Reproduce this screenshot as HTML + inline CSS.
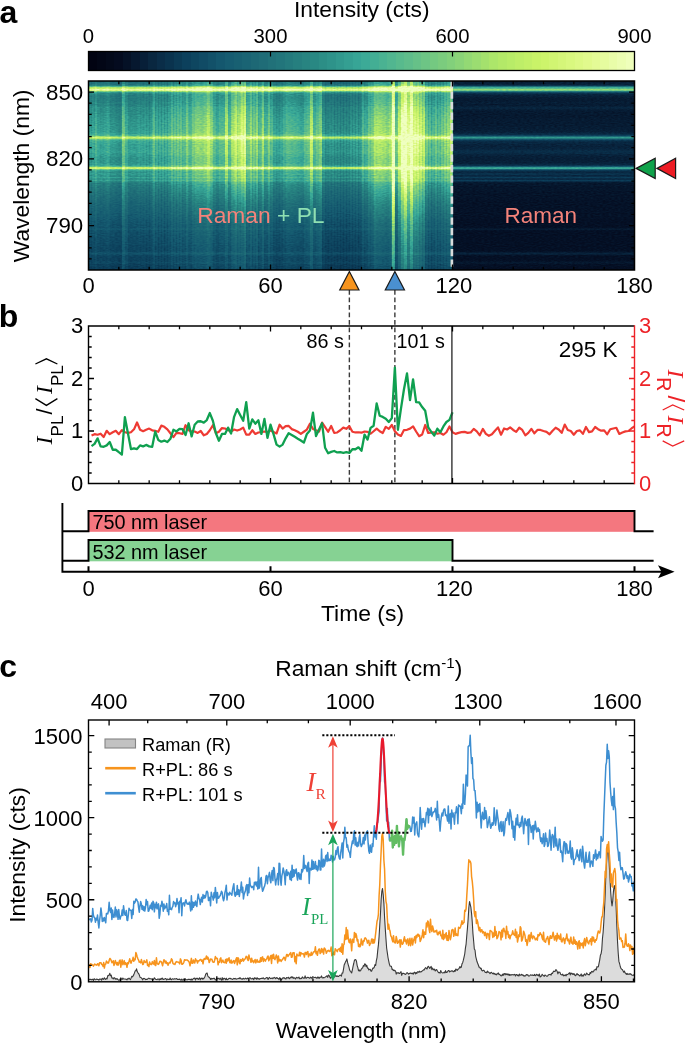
<!DOCTYPE html>
<html><head><meta charset="utf-8"><title>figure</title>
<style>html,body{margin:0;padding:0;background:#fff}svg{display:block}text{font-family:'Liberation Sans', sans-serif}</style></head><body>
<svg style="will-change:transform" width="685" height="1044" viewBox="0 0 685 1044">
<rect width="685" height="1044" fill="#fff"/>
<defs>
<linearGradient id="cb" x1="0" y1="0" x2="1" y2="0">
<stop offset="0" stop-color="rgb(1,3,18)"/><stop offset="0.0156" stop-color="rgb(1,3,18)"/>
<stop offset="0.0156" stop-color="rgb(2,6,22)"/><stop offset="0.0312" stop-color="rgb(2,6,22)"/>
<stop offset="0.0312" stop-color="rgb(3,9,26)"/><stop offset="0.0469" stop-color="rgb(3,9,26)"/>
<stop offset="0.0469" stop-color="rgb(4,11,31)"/><stop offset="0.0625" stop-color="rgb(4,11,31)"/>
<stop offset="0.0625" stop-color="rgb(5,17,38)"/><stop offset="0.0781" stop-color="rgb(5,17,38)"/>
<stop offset="0.0781" stop-color="rgb(6,24,47)"/><stop offset="0.0938" stop-color="rgb(6,24,47)"/>
<stop offset="0.0938" stop-color="rgb(7,31,56)"/><stop offset="0.1094" stop-color="rgb(7,31,56)"/>
<stop offset="0.1094" stop-color="rgb(9,39,64)"/><stop offset="0.125" stop-color="rgb(9,39,64)"/>
<stop offset="0.125" stop-color="rgb(10,45,72)"/><stop offset="0.1406" stop-color="rgb(10,45,72)"/>
<stop offset="0.1406" stop-color="rgb(10,51,78)"/><stop offset="0.1562" stop-color="rgb(10,51,78)"/>
<stop offset="0.1562" stop-color="rgb(11,58,85)"/><stop offset="0.1719" stop-color="rgb(11,58,85)"/>
<stop offset="0.1719" stop-color="rgb(12,64,92)"/><stop offset="0.1875" stop-color="rgb(12,64,92)"/>
<stop offset="0.1875" stop-color="rgb(14,70,96)"/><stop offset="0.2031" stop-color="rgb(14,70,96)"/>
<stop offset="0.2031" stop-color="rgb(16,75,101)"/><stop offset="0.2188" stop-color="rgb(16,75,101)"/>
<stop offset="0.2188" stop-color="rgb(18,81,105)"/><stop offset="0.2344" stop-color="rgb(18,81,105)"/>
<stop offset="0.2344" stop-color="rgb(20,87,110)"/><stop offset="0.25" stop-color="rgb(20,87,110)"/>
<stop offset="0.25" stop-color="rgb(22,92,113)"/><stop offset="0.2656" stop-color="rgb(22,92,113)"/>
<stop offset="0.2656" stop-color="rgb(24,96,114)"/><stop offset="0.2812" stop-color="rgb(24,96,114)"/>
<stop offset="0.2812" stop-color="rgb(26,100,116)"/><stop offset="0.2969" stop-color="rgb(26,100,116)"/>
<stop offset="0.2969" stop-color="rgb(29,104,117)"/><stop offset="0.3125" stop-color="rgb(29,104,117)"/>
<stop offset="0.3125" stop-color="rgb(31,108,119)"/><stop offset="0.3281" stop-color="rgb(31,108,119)"/>
<stop offset="0.3281" stop-color="rgb(33,113,121)"/><stop offset="0.3438" stop-color="rgb(33,113,121)"/>
<stop offset="0.3438" stop-color="rgb(34,117,123)"/><stop offset="0.3594" stop-color="rgb(34,117,123)"/>
<stop offset="0.3594" stop-color="rgb(36,122,125)"/><stop offset="0.375" stop-color="rgb(36,122,125)"/>
<stop offset="0.375" stop-color="rgb(38,127,127)"/><stop offset="0.3906" stop-color="rgb(38,127,127)"/>
<stop offset="0.3906" stop-color="rgb(40,132,129)"/><stop offset="0.4062" stop-color="rgb(40,132,129)"/>
<stop offset="0.4062" stop-color="rgb(41,136,131)"/><stop offset="0.4219" stop-color="rgb(41,136,131)"/>
<stop offset="0.4219" stop-color="rgb(44,142,134)"/><stop offset="0.4375" stop-color="rgb(44,142,134)"/>
<stop offset="0.4375" stop-color="rgb(46,147,138)"/><stop offset="0.4531" stop-color="rgb(46,147,138)"/>
<stop offset="0.4531" stop-color="rgb(49,153,142)"/><stop offset="0.4688" stop-color="rgb(49,153,142)"/>
<stop offset="0.4688" stop-color="rgb(52,159,146)"/><stop offset="0.4844" stop-color="rgb(52,159,146)"/>
<stop offset="0.4844" stop-color="rgb(55,165,150)"/><stop offset="0.5" stop-color="rgb(55,165,150)"/>
<stop offset="0.5" stop-color="rgb(60,170,151)"/><stop offset="0.5156" stop-color="rgb(60,170,151)"/>
<stop offset="0.5156" stop-color="rgb(67,174,148)"/><stop offset="0.5312" stop-color="rgb(67,174,148)"/>
<stop offset="0.5312" stop-color="rgb(74,178,146)"/><stop offset="0.5469" stop-color="rgb(74,178,146)"/>
<stop offset="0.5469" stop-color="rgb(81,182,144)"/><stop offset="0.5625" stop-color="rgb(81,182,144)"/>
<stop offset="0.5625" stop-color="rgb(88,186,141)"/><stop offset="0.5781" stop-color="rgb(88,186,141)"/>
<stop offset="0.5781" stop-color="rgb(95,189,139)"/><stop offset="0.5938" stop-color="rgb(95,189,139)"/>
<stop offset="0.5938" stop-color="rgb(102,193,136)"/><stop offset="0.6094" stop-color="rgb(102,193,136)"/>
<stop offset="0.6094" stop-color="rgb(109,197,133)"/><stop offset="0.625" stop-color="rgb(109,197,133)"/>
<stop offset="0.625" stop-color="rgb(116,201,129)"/><stop offset="0.6406" stop-color="rgb(116,201,129)"/>
<stop offset="0.6406" stop-color="rgb(123,204,126)"/><stop offset="0.6562" stop-color="rgb(123,204,126)"/>
<stop offset="0.6562" stop-color="rgb(130,208,123)"/><stop offset="0.6719" stop-color="rgb(130,208,123)"/>
<stop offset="0.6719" stop-color="rgb(138,212,120)"/><stop offset="0.6875" stop-color="rgb(138,212,120)"/>
<stop offset="0.6875" stop-color="rgb(147,217,116)"/><stop offset="0.7031" stop-color="rgb(147,217,116)"/>
<stop offset="0.7031" stop-color="rgb(155,221,113)"/><stop offset="0.7188" stop-color="rgb(155,221,113)"/>
<stop offset="0.7188" stop-color="rgb(164,225,109)"/><stop offset="0.7344" stop-color="rgb(164,225,109)"/>
<stop offset="0.7344" stop-color="rgb(172,230,106)"/><stop offset="0.75" stop-color="rgb(172,230,106)"/>
<stop offset="0.75" stop-color="rgb(179,233,104)"/><stop offset="0.7656" stop-color="rgb(179,233,104)"/>
<stop offset="0.7656" stop-color="rgb(184,236,104)"/><stop offset="0.7812" stop-color="rgb(184,236,104)"/>
<stop offset="0.7812" stop-color="rgb(190,238,104)"/><stop offset="0.7969" stop-color="rgb(190,238,104)"/>
<stop offset="0.7969" stop-color="rgb(195,240,104)"/><stop offset="0.8125" stop-color="rgb(195,240,104)"/>
<stop offset="0.8125" stop-color="rgb(201,243,104)"/><stop offset="0.8281" stop-color="rgb(201,243,104)"/>
<stop offset="0.8281" stop-color="rgb(205,244,107)"/><stop offset="0.8438" stop-color="rgb(205,244,107)"/>
<stop offset="0.8438" stop-color="rgb(209,245,114)"/><stop offset="0.8594" stop-color="rgb(209,245,114)"/>
<stop offset="0.8594" stop-color="rgb(213,246,121)"/><stop offset="0.875" stop-color="rgb(213,246,121)"/>
<stop offset="0.875" stop-color="rgb(217,248,127)"/><stop offset="0.8906" stop-color="rgb(217,248,127)"/>
<stop offset="0.8906" stop-color="rgb(221,249,134)"/><stop offset="0.9062" stop-color="rgb(221,249,134)"/>
<stop offset="0.9062" stop-color="rgb(225,250,141)"/><stop offset="0.9219" stop-color="rgb(225,250,141)"/>
<stop offset="0.9219" stop-color="rgb(228,251,150)"/><stop offset="0.9375" stop-color="rgb(228,251,150)"/>
<stop offset="0.9375" stop-color="rgb(230,252,159)"/><stop offset="0.9531" stop-color="rgb(230,252,159)"/>
<stop offset="0.9531" stop-color="rgb(233,253,169)"/><stop offset="0.9688" stop-color="rgb(233,253,169)"/>
<stop offset="0.9688" stop-color="rgb(236,254,178)"/><stop offset="0.9844" stop-color="rgb(236,254,178)"/>
<stop offset="0.9844" stop-color="rgb(239,255,187)"/><stop offset="1" stop-color="rgb(239,255,187)"/>
</linearGradient>
<linearGradient id="hv" x1="0" y1="0" x2="0" y2="1">
<stop offset="0" stop-color="rgb(139,10,0)"/>
<stop offset="0.0053" stop-color="rgb(144,11,0)"/>
<stop offset="0.0105" stop-color="rgb(148,12,0)"/>
<stop offset="0.0158" stop-color="rgb(152,14,0)"/>
<stop offset="0.0211" stop-color="rgb(156,18,0)"/>
<stop offset="0.0263" stop-color="rgb(158,33,0)"/>
<stop offset="0.0316" stop-color="rgb(160,103,0)"/>
<stop offset="0.0368" stop-color="rgb(162,126,0)"/>
<stop offset="0.0421" stop-color="rgb(163,139,0)"/>
<stop offset="0.0474" stop-color="rgb(165,183,0)"/>
<stop offset="0.0526" stop-color="rgb(167,116,0)"/>
<stop offset="0.0579" stop-color="rgb(169,52,0)"/>
<stop offset="0.0632" stop-color="rgb(171,28,0)"/>
<stop offset="0.0684" stop-color="rgb(173,19,0)"/>
<stop offset="0.0737" stop-color="rgb(174,15,0)"/>
<stop offset="0.0789" stop-color="rgb(176,13,0)"/>
<stop offset="0.0842" stop-color="rgb(178,12,0)"/>
<stop offset="0.0895" stop-color="rgb(181,11,0)"/>
<stop offset="0.0947" stop-color="rgb(183,10,0)"/>
<stop offset="0.1" stop-color="rgb(185,10,0)"/>
<stop offset="0.1053" stop-color="rgb(187,10,0)"/>
<stop offset="0.1105" stop-color="rgb(189,11,0)"/>
<stop offset="0.1158" stop-color="rgb(190,12,0)"/>
<stop offset="0.1211" stop-color="rgb(192,11,0)"/>
<stop offset="0.1263" stop-color="rgb(194,10,0)"/>
<stop offset="0.1316" stop-color="rgb(196,11,0)"/>
<stop offset="0.1368" stop-color="rgb(200,14,0)"/>
<stop offset="0.1421" stop-color="rgb(203,16,0)"/>
<stop offset="0.1474" stop-color="rgb(206,14,0)"/>
<stop offset="0.1526" stop-color="rgb(209,11,0)"/>
<stop offset="0.1579" stop-color="rgb(213,10,0)"/>
<stop offset="0.1632" stop-color="rgb(216,9,0)"/>
<stop offset="0.1684" stop-color="rgb(220,9,0)"/>
<stop offset="0.1737" stop-color="rgb(223,9,0)"/>
<stop offset="0.1789" stop-color="rgb(226,9,0)"/>
<stop offset="0.1842" stop-color="rgb(227,9,0)"/>
<stop offset="0.1895" stop-color="rgb(229,9,0)"/>
<stop offset="0.1947" stop-color="rgb(230,9,0)"/>
<stop offset="0.2" stop-color="rgb(231,10,0)"/>
<stop offset="0.2053" stop-color="rgb(233,10,0)"/>
<stop offset="0.2105" stop-color="rgb(234,10,0)"/>
<stop offset="0.2158" stop-color="rgb(235,10,0)"/>
<stop offset="0.2211" stop-color="rgb(236,10,0)"/>
<stop offset="0.2263" stop-color="rgb(237,10,0)"/>
<stop offset="0.2316" stop-color="rgb(238,10,0)"/>
<stop offset="0.2368" stop-color="rgb(239,10,0)"/>
<stop offset="0.2421" stop-color="rgb(240,11,0)"/>
<stop offset="0.2474" stop-color="rgb(240,11,0)"/>
<stop offset="0.2526" stop-color="rgb(240,11,0)"/>
<stop offset="0.2579" stop-color="rgb(241,12,0)"/>
<stop offset="0.2632" stop-color="rgb(241,12,0)"/>
<stop offset="0.2684" stop-color="rgb(241,13,0)"/>
<stop offset="0.2737" stop-color="rgb(241,15,0)"/>
<stop offset="0.2789" stop-color="rgb(241,18,0)"/>
<stop offset="0.2842" stop-color="rgb(242,23,0)"/>
<stop offset="0.2895" stop-color="rgb(242,37,0)"/>
<stop offset="0.2947" stop-color="rgb(242,74,0)"/>
<stop offset="0.3" stop-color="rgb(242,111,0)"/>
<stop offset="0.3053" stop-color="rgb(243,74,0)"/>
<stop offset="0.3105" stop-color="rgb(243,38,0)"/>
<stop offset="0.3158" stop-color="rgb(243,24,0)"/>
<stop offset="0.3211" stop-color="rgb(244,19,0)"/>
<stop offset="0.3263" stop-color="rgb(244,17,0)"/>
<stop offset="0.3316" stop-color="rgb(244,16,0)"/>
<stop offset="0.3368" stop-color="rgb(244,15,0)"/>
<stop offset="0.3421" stop-color="rgb(244,14,0)"/>
<stop offset="0.3474" stop-color="rgb(244,14,0)"/>
<stop offset="0.3526" stop-color="rgb(242,15,0)"/>
<stop offset="0.3579" stop-color="rgb(240,15,0)"/>
<stop offset="0.3632" stop-color="rgb(238,17,0)"/>
<stop offset="0.3684" stop-color="rgb(236,19,0)"/>
<stop offset="0.3737" stop-color="rgb(235,21,0)"/>
<stop offset="0.3789" stop-color="rgb(234,20,0)"/>
<stop offset="0.3842" stop-color="rgb(233,18,0)"/>
<stop offset="0.3895" stop-color="rgb(233,15,1)"/>
<stop offset="0.3947" stop-color="rgb(232,14,4)"/>
<stop offset="0.4" stop-color="rgb(229,13,6)"/>
<stop offset="0.4053" stop-color="rgb(226,12,9)"/>
<stop offset="0.4105" stop-color="rgb(224,12,12)"/>
<stop offset="0.4158" stop-color="rgb(222,12,15)"/>
<stop offset="0.4211" stop-color="rgb(221,12,18)"/>
<stop offset="0.4263" stop-color="rgb(220,13,21)"/>
<stop offset="0.4316" stop-color="rgb(218,13,23)"/>
<stop offset="0.4368" stop-color="rgb(217,15,27)"/>
<stop offset="0.4421" stop-color="rgb(214,18,33)"/>
<stop offset="0.4474" stop-color="rgb(211,26,39)"/>
<stop offset="0.4526" stop-color="rgb(208,50,44)"/>
<stop offset="0.4579" stop-color="rgb(205,108,50)"/>
<stop offset="0.4632" stop-color="rgb(202,114,56)"/>
<stop offset="0.4684" stop-color="rgb(199,54,61)"/>
<stop offset="0.4737" stop-color="rgb(196,27,67)"/>
<stop offset="0.4789" stop-color="rgb(193,19,73)"/>
<stop offset="0.4842" stop-color="rgb(190,17,79)"/>
<stop offset="0.4895" stop-color="rgb(187,22,84)"/>
<stop offset="0.4947" stop-color="rgb(184,24,90)"/>
<stop offset="0.5" stop-color="rgb(181,17,96)"/>
<stop offset="0.5053" stop-color="rgb(178,20,101)"/>
<stop offset="0.5105" stop-color="rgb(174,30,109)"/>
<stop offset="0.5158" stop-color="rgb(169,20,116)"/>
<stop offset="0.5211" stop-color="rgb(165,18,124)"/>
<stop offset="0.5263" stop-color="rgb(160,30,132)"/>
<stop offset="0.5316" stop-color="rgb(155,20,139)"/>
<stop offset="0.5368" stop-color="rgb(151,10,147)"/>
<stop offset="0.5421" stop-color="rgb(146,8,154)"/>
<stop offset="0.5474" stop-color="rgb(141,8,162)"/>
<stop offset="0.5526" stop-color="rgb(137,8,170)"/>
<stop offset="0.5579" stop-color="rgb(132,7,177)"/>
<stop offset="0.5632" stop-color="rgb(127,7,185)"/>
<stop offset="0.5684" stop-color="rgb(123,7,192)"/>
<stop offset="0.5737" stop-color="rgb(118,7,200)"/>
<stop offset="0.5789" stop-color="rgb(114,7,206)"/>
<stop offset="0.5842" stop-color="rgb(111,6,210)"/>
<stop offset="0.5895" stop-color="rgb(108,6,213)"/>
<stop offset="0.5947" stop-color="rgb(104,6,217)"/>
<stop offset="0.6" stop-color="rgb(101,6,221)"/>
<stop offset="0.6053" stop-color="rgb(98,6,225)"/>
<stop offset="0.6105" stop-color="rgb(95,6,229)"/>
<stop offset="0.6158" stop-color="rgb(91,6,232)"/>
<stop offset="0.6211" stop-color="rgb(88,6,236)"/>
<stop offset="0.6263" stop-color="rgb(85,6,240)"/>
<stop offset="0.6316" stop-color="rgb(82,5,244)"/>
<stop offset="0.6368" stop-color="rgb(78,5,248)"/>
<stop offset="0.6421" stop-color="rgb(75,5,251)"/>
<stop offset="0.6474" stop-color="rgb(72,5,255)"/>
<stop offset="0.6526" stop-color="rgb(70,5,255)"/>
<stop offset="0.6579" stop-color="rgb(68,5,255)"/>
<stop offset="0.6632" stop-color="rgb(67,5,255)"/>
<stop offset="0.6684" stop-color="rgb(65,5,255)"/>
<stop offset="0.6737" stop-color="rgb(63,5,255)"/>
<stop offset="0.6789" stop-color="rgb(62,5,255)"/>
<stop offset="0.6842" stop-color="rgb(60,5,255)"/>
<stop offset="0.6895" stop-color="rgb(58,5,255)"/>
<stop offset="0.6947" stop-color="rgb(57,5,255)"/>
<stop offset="0.7" stop-color="rgb(55,5,255)"/>
<stop offset="0.7053" stop-color="rgb(53,5,255)"/>
<stop offset="0.7105" stop-color="rgb(51,5,255)"/>
<stop offset="0.7158" stop-color="rgb(50,5,255)"/>
<stop offset="0.7211" stop-color="rgb(48,5,255)"/>
<stop offset="0.7263" stop-color="rgb(46,5,255)"/>
<stop offset="0.7316" stop-color="rgb(45,4,255)"/>
<stop offset="0.7368" stop-color="rgb(43,4,255)"/>
<stop offset="0.7421" stop-color="rgb(41,4,255)"/>
<stop offset="0.7474" stop-color="rgb(40,4,255)"/>
<stop offset="0.7526" stop-color="rgb(38,4,255)"/>
<stop offset="0.7579" stop-color="rgb(36,4,255)"/>
<stop offset="0.7632" stop-color="rgb(35,4,255)"/>
<stop offset="0.7684" stop-color="rgb(34,4,253)"/>
<stop offset="0.7737" stop-color="rgb(33,4,251)"/>
<stop offset="0.7789" stop-color="rgb(33,7,249)"/>
<stop offset="0.7842" stop-color="rgb(33,11,247)"/>
<stop offset="0.7895" stop-color="rgb(32,5,244)"/>
<stop offset="0.7947" stop-color="rgb(32,4,242)"/>
<stop offset="0.8" stop-color="rgb(32,4,240)"/>
<stop offset="0.8053" stop-color="rgb(31,4,237)"/>
<stop offset="0.8105" stop-color="rgb(31,4,235)"/>
<stop offset="0.8158" stop-color="rgb(31,4,233)"/>
<stop offset="0.8211" stop-color="rgb(30,4,231)"/>
<stop offset="0.8263" stop-color="rgb(30,4,228)"/>
<stop offset="0.8316" stop-color="rgb(30,4,226)"/>
<stop offset="0.8368" stop-color="rgb(29,4,224)"/>
<stop offset="0.8421" stop-color="rgb(29,4,221)"/>
<stop offset="0.8474" stop-color="rgb(29,4,219)"/>
<stop offset="0.8526" stop-color="rgb(28,4,217)"/>
<stop offset="0.8579" stop-color="rgb(28,4,215)"/>
<stop offset="0.8632" stop-color="rgb(28,4,212)"/>
<stop offset="0.8684" stop-color="rgb(27,4,210)"/>
<stop offset="0.8737" stop-color="rgb(27,4,208)"/>
<stop offset="0.8789" stop-color="rgb(27,4,206)"/>
<stop offset="0.8842" stop-color="rgb(26,4,203)"/>
<stop offset="0.8895" stop-color="rgb(26,4,201)"/>
<stop offset="0.8947" stop-color="rgb(26,4,199)"/>
<stop offset="0.9" stop-color="rgb(26,4,197)"/>
<stop offset="0.9053" stop-color="rgb(26,7,195)"/>
<stop offset="0.9105" stop-color="rgb(26,14,193)"/>
<stop offset="0.9158" stop-color="rgb(25,14,191)"/>
<stop offset="0.9211" stop-color="rgb(25,7,189)"/>
<stop offset="0.9263" stop-color="rgb(25,4,187)"/>
<stop offset="0.9316" stop-color="rgb(25,4,185)"/>
<stop offset="0.9368" stop-color="rgb(25,4,183)"/>
<stop offset="0.9421" stop-color="rgb(25,4,181)"/>
<stop offset="0.9474" stop-color="rgb(24,4,179)"/>
<stop offset="0.9526" stop-color="rgb(24,5,177)"/>
<stop offset="0.9579" stop-color="rgb(24,8,175)"/>
<stop offset="0.9632" stop-color="rgb(24,10,173)"/>
<stop offset="0.9684" stop-color="rgb(24,5,170)"/>
<stop offset="0.9737" stop-color="rgb(24,4,168)"/>
<stop offset="0.9789" stop-color="rgb(23,4,166)"/>
<stop offset="0.9842" stop-color="rgb(23,4,164)"/>
<stop offset="0.9895" stop-color="rgb(23,3,162)"/>
<stop offset="0.9947" stop-color="rgb(23,3,160)"/>
<stop offset="1" stop-color="rgb(23,3,158)"/>
</linearGradient>
<filter id="cm" x="0" y="0" width="1" height="1" color-interpolation-filters="sRGB">
<feColorMatrix in="SourceGraphic" type="matrix" values="1.1500 1 0.4889 0 0.0533 1.1500 1 0.4889 0 0.0533 1.1500 1 0.4889 0 0.0533 0 0 0 0 1" result="v"/>
<feTurbulence type="fractalNoise" baseFrequency="0.33 0.9" numOctaves="1" seed="4" result="n"/>
<feColorMatrix in="n" type="matrix" values="1 0 0 0 0 1 0 0 0 0 1 0 0 0 0 0 0 0 0 1" result="n1"/>
<feComposite in="v" in2="n1" operator="arithmetic" k1="0.220" k2="0.890" k3="0.035" k4="-0.0175" result="vn"/>
<feComponentTransfer in="vn"><feFuncR type="table" tableValues="0.004 0.007 0.010 0.013 0.017 0.022 0.027 0.032 0.036 0.039 0.042 0.045 0.051 0.059 0.067 0.074 0.082 0.091 0.099 0.108 0.116 0.124 0.131 0.138 0.145 0.152 0.159 0.166 0.177 0.187 0.198 0.209 0.220 0.247 0.275 0.302 0.330 0.357 0.385 0.413 0.440 0.468 0.495 0.527 0.559 0.592 0.625 0.658 0.690 0.712 0.733 0.755 0.776 0.797 0.813 0.828 0.843 0.858 0.873 0.888 0.898 0.909 0.920 0.930 0.941"/><feFuncG type="table" tableValues="0.008 0.018 0.028 0.038 0.052 0.080 0.109 0.137 0.165 0.189 0.214 0.238 0.262 0.285 0.307 0.330 0.353 0.369 0.385 0.401 0.417 0.433 0.451 0.470 0.488 0.507 0.525 0.544 0.567 0.590 0.613 0.636 0.659 0.674 0.689 0.705 0.720 0.735 0.750 0.765 0.779 0.794 0.808 0.825 0.842 0.859 0.876 0.893 0.910 0.919 0.928 0.937 0.947 0.956 0.960 0.965 0.969 0.973 0.977 0.981 0.985 0.989 0.992 0.996 1.000"/><feFuncB type="table" tableValues="0.063 0.079 0.095 0.112 0.131 0.166 0.200 0.235 0.267 0.294 0.320 0.347 0.369 0.387 0.404 0.422 0.439 0.445 0.451 0.458 0.464 0.470 0.478 0.486 0.494 0.502 0.510 0.519 0.535 0.550 0.565 0.581 0.596 0.587 0.578 0.569 0.559 0.550 0.538 0.526 0.514 0.501 0.489 0.476 0.462 0.449 0.435 0.421 0.408 0.408 0.408 0.408 0.408 0.408 0.432 0.459 0.486 0.514 0.541 0.569 0.606 0.643 0.679 0.716 0.753"/></feComponentTransfer>
</filter>
</defs>
<text x="-0.6" y="22.6" font-size="32" text-anchor="start" fill="#000" font-weight="bold">a</text>
<text x="361.8" y="16.8" font-size="22.8" text-anchor="middle" fill="#000" >Intensity (cts)</text>
<rect x="88.5" y="51.5" width="546" height="19" fill="url(#cb)" stroke="#000" stroke-width="1.3"/>
<text x="88.5" y="43.2" font-size="20.3" text-anchor="middle" fill="#000" >0</text>
<text x="270.5" y="43.2" font-size="20.3" text-anchor="middle" fill="#000" >300</text>
<line x1="270.5" y1="51.5" x2="270.5" y2="56.5" stroke="#000" stroke-width="1.2" />
<text x="452.5" y="43.2" font-size="20.3" text-anchor="middle" fill="#000" >600</text>
<line x1="452.5" y1="51.5" x2="452.5" y2="56.5" stroke="#000" stroke-width="1.2" />
<text x="634.5" y="43.2" font-size="20.3" text-anchor="middle" fill="#000" >900</text>
<g filter="url(#cm)"><g style="isolation:isolate">
<rect x="88.5" y="81" width="546" height="189" fill="rgb(0,255,0)"/>
<rect x="88.5" y="81" width="3.33" height="189" fill="rgb(89,255,56)"/>
<rect x="91.53" y="81" width="3.33" height="189" fill="rgb(93,255,58)"/>
<rect x="94.57" y="81" width="3.33" height="189" fill="rgb(103,255,63)"/>
<rect x="97.6" y="81" width="3.33" height="189" fill="rgb(89,255,56)"/>
<rect x="100.63" y="81" width="3.33" height="189" fill="rgb(88,255,56)"/>
<rect x="103.67" y="81" width="3.33" height="189" fill="rgb(91,255,57)"/>
<rect x="106.7" y="81" width="3.33" height="189" fill="rgb(97,255,60)"/>
<rect x="109.73" y="81" width="3.33" height="189" fill="rgb(83,255,53)"/>
<rect x="112.77" y="81" width="3.33" height="189" fill="rgb(83,255,53)"/>
<rect x="115.8" y="81" width="3.33" height="189" fill="rgb(78,255,51)"/>
<rect x="118.83" y="81" width="3.33" height="189" fill="rgb(74,255,49)"/>
<rect x="121.87" y="81" width="3.33" height="189" fill="rgb(124,255,82)"/>
<rect x="124.9" y="81" width="3.33" height="189" fill="rgb(98,255,68)"/>
<rect x="127.93" y="81" width="3.33" height="189" fill="rgb(84,255,54)"/>
<rect x="130.97" y="81" width="3.33" height="189" fill="rgb(85,255,54)"/>
<rect x="134" y="81" width="3.33" height="189" fill="rgb(84,255,54)"/>
<rect x="137.03" y="81" width="3.33" height="189" fill="rgb(91,255,57)"/>
<rect x="140.07" y="81" width="3.33" height="189" fill="rgb(89,255,56)"/>
<rect x="143.1" y="81" width="3.33" height="189" fill="rgb(91,255,57)"/>
<rect x="146.13" y="81" width="3.33" height="189" fill="rgb(89,255,56)"/>
<rect x="149.17" y="81" width="3.33" height="189" fill="rgb(88,255,56)"/>
<rect x="152.2" y="81" width="3.33" height="189" fill="rgb(115,255,69)"/>
<rect x="155.23" y="81" width="3.33" height="189" fill="rgb(100,255,62)"/>
<rect x="158.27" y="81" width="3.33" height="189" fill="rgb(97,255,60)"/>
<rect x="161.3" y="81" width="3.33" height="189" fill="rgb(99,255,61)"/>
<rect x="164.33" y="81" width="3.33" height="189" fill="rgb(97,255,60)"/>
<rect x="167.37" y="81" width="3.33" height="189" fill="rgb(102,255,63)"/>
<rect x="170.4" y="81" width="3.33" height="189" fill="rgb(119,255,71)"/>
<rect x="173.43" y="81" width="3.33" height="189" fill="rgb(116,255,69)"/>
<rect x="176.47" y="81" width="3.33" height="189" fill="rgb(120,255,71)"/>
<rect x="179.5" y="81" width="3.33" height="189" fill="rgb(120,255,71)"/>
<rect x="182.53" y="81" width="3.33" height="189" fill="rgb(109,255,66)"/>
<rect x="185.57" y="81" width="3.33" height="189" fill="rgb(133,255,76)"/>
<rect x="188.6" y="81" width="3.33" height="189" fill="rgb(107,255,65)"/>
<rect x="191.63" y="81" width="3.33" height="189" fill="rgb(129,255,75)"/>
<rect x="194.67" y="81" width="3.33" height="189" fill="rgb(138,255,78)"/>
<rect x="197.7" y="81" width="3.33" height="189" fill="rgb(138,255,78)"/>
<rect x="200.73" y="81" width="3.33" height="189" fill="rgb(134,255,77)"/>
<rect x="203.77" y="81" width="3.33" height="189" fill="rgb(142,255,79)"/>
<rect x="206.8" y="81" width="3.33" height="189" fill="rgb(161,255,85)"/>
<rect x="209.83" y="81" width="3.33" height="189" fill="rgb(140,255,79)"/>
<rect x="212.87" y="81" width="3.33" height="189" fill="rgb(112,255,68)"/>
<rect x="215.9" y="81" width="3.33" height="189" fill="rgb(99,255,61)"/>
<rect x="218.93" y="81" width="3.33" height="189" fill="rgb(111,255,67)"/>
<rect x="221.97" y="81" width="3.33" height="189" fill="rgb(111,255,67)"/>
<rect x="225" y="81" width="3.33" height="189" fill="rgb(158,255,73)"/>
<rect x="228.03" y="81" width="3.33" height="189" fill="rgb(112,255,67)"/>
<rect x="231.07" y="81" width="3.33" height="189" fill="rgb(150,255,82)"/>
<rect x="234.1" y="81" width="3.33" height="189" fill="rgb(172,255,89)"/>
<rect x="237.13" y="81" width="3.33" height="189" fill="rgb(156,255,84)"/>
<rect x="240.17" y="81" width="3.33" height="189" fill="rgb(183,255,79)"/>
<rect x="243.2" y="81" width="3.33" height="189" fill="rgb(190,255,95)"/>
<rect x="246.23" y="81" width="3.33" height="189" fill="rgb(121,255,72)"/>
<rect x="249.27" y="81" width="3.33" height="189" fill="rgb(143,255,80)"/>
<rect x="252.3" y="81" width="3.33" height="189" fill="rgb(131,255,76)"/>
<rect x="255.33" y="81" width="3.33" height="189" fill="rgb(141,255,79)"/>
<rect x="258.37" y="81" width="3.33" height="189" fill="rgb(111,255,67)"/>
<rect x="261.4" y="81" width="3.33" height="189" fill="rgb(145,255,80)"/>
<rect x="264.43" y="81" width="3.33" height="189" fill="rgb(104,255,63)"/>
<rect x="267.47" y="81" width="3.33" height="189" fill="rgb(129,255,75)"/>
<rect x="270.5" y="81" width="3.33" height="189" fill="rgb(111,255,67)"/>
<rect x="273.53" y="81" width="3.33" height="189" fill="rgb(92,255,58)"/>
<rect x="276.57" y="81" width="3.33" height="189" fill="rgb(88,255,56)"/>
<rect x="279.6" y="81" width="3.33" height="189" fill="rgb(92,255,58)"/>
<rect x="282.63" y="81" width="3.33" height="189" fill="rgb(103,255,63)"/>
<rect x="285.67" y="81" width="3.33" height="189" fill="rgb(112,255,68)"/>
<rect x="288.7" y="81" width="3.33" height="189" fill="rgb(109,255,66)"/>
<rect x="291.73" y="81" width="3.33" height="189" fill="rgb(106,255,64)"/>
<rect x="294.77" y="81" width="3.33" height="189" fill="rgb(103,255,63)"/>
<rect x="297.8" y="81" width="3.33" height="189" fill="rgb(99,255,61)"/>
<rect x="300.83" y="81" width="3.33" height="189" fill="rgb(95,255,59)"/>
<rect x="303.87" y="81" width="3.33" height="189" fill="rgb(111,255,67)"/>
<rect x="306.9" y="81" width="3.33" height="189" fill="rgb(117,255,70)"/>
<rect x="309.93" y="81" width="3.33" height="189" fill="rgb(162,255,86)"/>
<rect x="312.97" y="81" width="3.33" height="189" fill="rgb(107,255,65)"/>
<rect x="316" y="81" width="3.33" height="189" fill="rgb(119,255,71)"/>
<rect x="319.03" y="81" width="3.33" height="189" fill="rgb(133,255,76)"/>
<rect x="322.07" y="81" width="3.33" height="189" fill="rgb(86,255,55)"/>
<rect x="325.1" y="81" width="3.33" height="189" fill="rgb(76,255,50)"/>
<rect x="328.13" y="81" width="3.33" height="189" fill="rgb(79,255,51)"/>
<rect x="331.17" y="81" width="3.33" height="189" fill="rgb(81,255,52)"/>
<rect x="334.2" y="81" width="3.33" height="189" fill="rgb(78,255,51)"/>
<rect x="337.23" y="81" width="3.33" height="189" fill="rgb(78,255,51)"/>
<rect x="340.27" y="81" width="3.33" height="189" fill="rgb(77,255,50)"/>
<rect x="343.3" y="81" width="3.33" height="189" fill="rgb(78,255,51)"/>
<rect x="346.33" y="81" width="3.33" height="189" fill="rgb(77,255,50)"/>
<rect x="349.37" y="81" width="3.33" height="189" fill="rgb(84,255,53)"/>
<rect x="352.4" y="81" width="3.33" height="189" fill="rgb(84,255,53)"/>
<rect x="355.43" y="81" width="3.33" height="189" fill="rgb(87,255,55)"/>
<rect x="358.47" y="81" width="3.33" height="189" fill="rgb(81,255,52)"/>
<rect x="361.5" y="81" width="3.33" height="189" fill="rgb(110,255,66)"/>
<rect x="364.53" y="81" width="3.33" height="189" fill="rgb(101,255,62)"/>
<rect x="367.57" y="81" width="3.33" height="189" fill="rgb(122,255,72)"/>
<rect x="370.6" y="81" width="3.33" height="189" fill="rgb(126,255,74)"/>
<rect x="373.63" y="81" width="3.33" height="189" fill="rgb(152,255,94)"/>
<rect x="376.67" y="81" width="3.33" height="189" fill="rgb(153,255,83)"/>
<rect x="379.7" y="81" width="3.33" height="189" fill="rgb(150,255,82)"/>
<rect x="382.73" y="81" width="3.33" height="189" fill="rgb(145,255,80)"/>
<rect x="385.77" y="81" width="3.33" height="189" fill="rgb(136,255,77)"/>
<rect x="388.8" y="81" width="3.33" height="189" fill="rgb(147,255,81)"/>
<rect x="391.83" y="81" width="3.33" height="189" fill="rgb(286,255,248)"/>
<rect x="394.87" y="81" width="3.33" height="189" fill="rgb(119,255,71)"/>
<rect x="397.9" y="81" width="3.33" height="189" fill="rgb(172,255,113)"/>
<rect x="400.93" y="81" width="3.33" height="189" fill="rgb(226,255,163)"/>
<rect x="403.97" y="81" width="3.33" height="189" fill="rgb(270,255,203)"/>
<rect x="407" y="81" width="3.33" height="189" fill="rgb(196,255,135)"/>
<rect x="410.03" y="81" width="3.33" height="189" fill="rgb(253,255,188)"/>
<rect x="413.07" y="81" width="3.33" height="189" fill="rgb(191,255,130)"/>
<rect x="416.1" y="81" width="3.33" height="189" fill="rgb(190,255,129)"/>
<rect x="419.13" y="81" width="3.33" height="189" fill="rgb(177,255,117)"/>
<rect x="422.17" y="81" width="3.33" height="189" fill="rgb(167,255,108)"/>
<rect x="425.2" y="81" width="3.33" height="189" fill="rgb(123,255,73)"/>
<rect x="428.23" y="81" width="3.33" height="189" fill="rgb(115,255,69)"/>
<rect x="431.27" y="81" width="3.33" height="189" fill="rgb(108,255,65)"/>
<rect x="434.3" y="81" width="3.33" height="189" fill="rgb(121,255,72)"/>
<rect x="437.33" y="81" width="3.33" height="189" fill="rgb(114,255,68)"/>
<rect x="440.37" y="81" width="3.33" height="189" fill="rgb(125,255,74)"/>
<rect x="443.4" y="81" width="3.33" height="189" fill="rgb(136,255,77)"/>
<rect x="446.43" y="81" width="3.33" height="189" fill="rgb(142,255,79)"/>
<rect x="449.47" y="81" width="3.33" height="189" fill="rgb(163,255,86)"/>
<rect x="88.5" y="81" width="546" height="189" fill="url(#hv)" style="mix-blend-mode:multiply"/>
</g></g>
<line x1="451.9" y1="81" x2="451.9" y2="270" stroke="#d9dcdc" stroke-width="2.6" stroke-dasharray="7.2 3.3"/>
<rect x="88.5" y="81" width="546" height="189" fill="none" stroke="#000" stroke-width="1.5"/>
<path d="M88.5 258.9L91.7 258.9M634.5 258.9L631.3 258.9M88.5 247.78L91.7 247.78M634.5 247.78L631.3 247.78M88.5 236.66L91.7 236.66M634.5 236.66L631.3 236.66M88.5 225.54L94 225.54M634.5 225.54L629 225.54M88.5 214.42L91.7 214.42M634.5 214.42L631.3 214.42M88.5 203.3L91.7 203.3M634.5 203.3L631.3 203.3M88.5 192.18L91.7 192.18M634.5 192.18L631.3 192.18M88.5 181.06L91.7 181.06M634.5 181.06L631.3 181.06M88.5 169.94L91.7 169.94M634.5 169.94L631.3 169.94M88.5 158.82L94 158.82M634.5 158.82L629 158.82M88.5 147.7L91.7 147.7M634.5 147.7L631.3 147.7M88.5 136.58L91.7 136.58M634.5 136.58L631.3 136.58M88.5 125.46L91.7 125.46M634.5 125.46L631.3 125.46M88.5 114.34L91.7 114.34M634.5 114.34L631.3 114.34M88.5 103.22L91.7 103.22M634.5 103.22L631.3 103.22M88.5 92.1L94 92.1M634.5 92.1L629 92.1M118.83 270L118.83 266.8M118.83 81L118.83 84.2M149.17 270L149.17 266.8M149.17 81L149.17 84.2M179.5 270L179.5 266.8M179.5 81L179.5 84.2M209.83 270L209.83 266.8M209.83 81L209.83 84.2M240.17 270L240.17 266.8M240.17 81L240.17 84.2M270.5 270L270.5 264.5M270.5 81L270.5 86.5M300.83 270L300.83 266.8M300.83 81L300.83 84.2M331.17 270L331.17 266.8M331.17 81L331.17 84.2M361.5 270L361.5 266.8M361.5 81L361.5 84.2M391.83 270L391.83 266.8M391.83 81L391.83 84.2M422.17 270L422.17 266.8M422.17 81L422.17 84.2M452.5 270L452.5 264.5M452.5 81L452.5 86.5M482.83 270L482.83 266.8M482.83 81L482.83 84.2M513.17 270L513.17 266.8M513.17 81L513.17 84.2M543.5 270L543.5 266.8M543.5 81L543.5 84.2M573.83 270L573.83 266.8M573.83 81L573.83 84.2M604.17 270L604.17 266.8M604.17 81L604.17 84.2" stroke="#000" stroke-width="1.3" fill="none"/>
<text x="83.2" y="99.6" font-size="22.3" text-anchor="end" fill="#000" >850</text>
<text x="83.2" y="166.32" font-size="22.3" text-anchor="end" fill="#000" >820</text>
<text x="83.2" y="233.04" font-size="22.3" text-anchor="end" fill="#000" >790</text>
<text x="0" y="0" font-size="22.8" text-anchor="middle" fill="#000" transform="translate(29.1,175.9) rotate(-90)">Wavelength (nm)</text>
<text x="88.5" y="293.3" font-size="22" text-anchor="middle" fill="#000" >0</text>
<text x="270.5" y="293.3" font-size="22" text-anchor="middle" fill="#000" >60</text>
<text x="453.8" y="293.3" font-size="22" text-anchor="middle" fill="#000" >120</text>
<text x="634.5" y="293.3" font-size="22" text-anchor="middle" fill="#000" >180</text>
<text x="197.2" y="223.2" font-size="22.8"><tspan fill="#f4837a">Raman</tspan><tspan fill="#8fe0b2"> + PL</tspan></text>
<text x="540.8" y="223.1" font-size="22.5" text-anchor="middle" fill="#f4837a" >Raman</text>
<line x1="349.37" y1="290" x2="349.37" y2="483.5" stroke="#3a3a3a" stroke-width="1.4" stroke-dasharray="4.8 2.7"/>
<line x1="394.87" y1="290" x2="394.87" y2="483.5" stroke="#3a3a3a" stroke-width="1.4" stroke-dasharray="4.8 2.7"/>
<path d="M349.37 271.5L358.97 290L339.77 290Z" fill="#f7941d" stroke="#1a1a1a" stroke-width="1.2" stroke-linejoin="miter"/>
<path d="M394.87 271.5L404.47 290L385.27 290Z" fill="#4a90d0" stroke="#1a1a1a" stroke-width="1.2" stroke-linejoin="miter"/>
<path d="M636.2 168.4L655.2 158.2L655.2 178.6Z" fill="#10a24b" stroke="#1a1a1a" stroke-width="1.2" stroke-linejoin="miter"/>
<path d="M657 168.4L675.6 158.2L675.6 178.6Z" fill="#ed1c24" stroke="#1a1a1a" stroke-width="1.2" stroke-linejoin="miter"/>
<text x="-1.2" y="327" font-size="32" text-anchor="start" fill="#000" font-weight="bold">b</text>
<polyline points="91.53,435.57 94.57,434.15 97.6,434.73 100.63,433.68 103.67,437.04 106.7,430.79 109.73,434.15 112.77,432.21 115.8,430.79 118.83,434.15 121.87,430.06 124.9,432.21 127.93,432.94 130.97,432.21 134,429.32 137.03,422.44 140.07,429.74 143.1,431.21 146.13,429.74 149.17,428.58 152.2,430.32 155.23,430.79 158.27,431.79 161.3,425.64 164.33,426.8 167.37,429.32 170.4,433.26 173.43,437.04 176.47,432.89 179.5,433.2 182.53,433.94 185.57,425.23 188.6,430.26 191.63,431.52 194.67,431.52 197.7,432.89 200.73,431 203.77,435.36 206.8,433.94 209.83,430.26 212.87,425.23 215.9,433.2 218.93,431.74 221.97,428.06 225,428.53 228.03,429.95 231.07,431.52 234.1,429.53 237.13,430.58 240.17,429.53 243.2,427.64 246.23,434.68 249.27,434.68 252.3,430.26 255.33,433.94 258.37,432.47 261.4,432.05 264.43,431.52 267.47,432.05 270.5,430.58 273.53,432.05 276.57,433.47 279.6,424.7 282.63,428.53 285.67,426.17 288.7,425.91 291.73,429.11 294.77,430.26 297.8,431.74 300.83,433.94 303.87,431.74 306.9,429.53 309.93,423.7 312.97,428.9 316,430.26 319.03,431.52 322.07,422.65 325.1,427.06 328.13,431.74 331.17,425.91 334.2,432.89 337.23,432.47 340.27,430.26 343.3,427.64 346.33,428.8 349.37,426.17 352.4,431.74 355.43,432.47 358.47,432.26 361.5,432.68 364.53,431.52 367.57,431.84 370.6,433.73 373.63,431.26 376.67,428.64 379.7,431.26 382.73,433 385.77,426.85 388.8,428.9 391.83,424.96 394.87,431.26 397.9,434.46 400.93,435.94 403.97,430.06 407,429.79 410.03,428.64 413.07,426.43 416.1,431.52 419.13,436.2 422.17,434.46 425.2,424.96 428.23,433 431.27,432.68 434.3,432.26 437.33,433.73 440.37,433 443.4,434.73 446.43,432.26 449.47,426.43 452.5,432.26 455.53,433.89 458.57,432.84 461.6,432.1 464.63,431.84 467.67,432.84 470.7,432.42 473.73,428.9 476.77,431.37 479.8,435.31 482.83,428.9 485.87,433.89 488.9,435.78 491.93,434.31 494.97,430.69 498,427.43 501.03,434.73 504.07,428.48 507.1,429.48 510.13,427.43 513.17,429.95 516.2,431.84 519.23,427.75 522.27,429.95 525.3,435.31 528.33,432.84 531.37,428.9 534.4,433.31 537.43,429.95 540.47,429.95 543.5,431 546.53,431.84 549.57,434.31 552.6,430.69 555.63,427.75 558.67,429.48 561.7,432.84 564.73,424.54 567.77,429.95 570.8,431 573.83,434.73 576.87,431 579.9,430.37 582.93,433.89 585.97,427.01 589,432.1 592.03,431.37 595.07,427.01 598.1,429.21 601.13,430.69 604.17,430.37 607.2,434.31 610.23,429.21 613.27,428.48 616.3,427.75 619.33,433.89 622.37,432.42 625.4,431.37 628.43,431 631.47,428.48 634.5,426.27" fill="none" stroke="#ee3a33" stroke-width="2.2" stroke-linejoin="round"/>
<polyline points="91.53,446.12 94.57,443.92 97.6,438.35 100.63,446.38 103.67,446.75 106.7,445.38 109.73,442.02 112.77,449.74 115.8,449.74 118.83,452.21 121.87,454.57 124.9,417.19 127.93,433.26 130.97,449.01 134,448.27 137.03,449.01 140.07,445.38 143.1,446.38 146.13,444.91 149.17,446.38 152.2,446.75 155.23,431.52 158.27,439.98 161.3,441.71 164.33,440.56 167.37,442.02 170.4,438.82 173.43,429.74 176.47,431.42 179.5,428.8 182.53,429.11 185.57,434.94 188.6,423.28 191.63,436.41 194.67,424.7 197.7,421.5 200.73,421.24 203.77,422.65 206.8,420.03 209.83,413.05 212.87,420.76 215.9,433.2 218.93,440.76 221.97,433.94 225,433.94 228.03,427.64 231.07,433.47 234.1,416.82 237.13,409.11 240.17,414.94 243.2,420.76 246.23,402.23 249.27,428.53 252.3,419.35 255.33,423.7 258.37,420.34 261.4,433.94 264.43,418.87 267.47,437.88 270.5,424.7 273.53,434.15 276.57,444.6 279.6,446.64 282.63,444.6 285.67,438.3 288.7,433.2 291.73,434.94 294.77,436.83 297.8,438.72 300.83,440.5 303.87,442.65 306.9,433.94 309.93,430.58 312.97,412.73 316,436.09 319.03,429.53 322.07,423.28 325.1,447.8 328.13,453.31 331.17,451.89 334.2,451 337.23,452.47 340.27,452.16 343.3,452.89 346.33,452.16 349.37,452.89 352.4,449.27 355.43,449.27 358.47,447.33 361.5,450.79 364.53,434.73 367.57,439.56 370.6,427.9 373.63,425.7 376.67,403.49 379.7,415.77 382.73,416.93 385.77,418.72 388.8,422.02 391.83,418.08 394.87,367.58 397.9,429.79 400.93,408.9 403.97,389.21 407,373.41 410.03,400.13 413.07,379.29 416.1,402.02 419.13,402.33 422.17,407.01 425.2,410.79 428.23,427.43 431.27,431.84 434.3,435.62 437.33,428.64 440.37,432.26 443.4,426.43 446.43,422.02 449.47,419.87 452.5,412.26" fill="none" stroke="#0fa050" stroke-width="2.3" stroke-linejoin="round"/>
<line x1="451.9" y1="326" x2="451.9" y2="483.5" stroke="#333" stroke-width="1.4" />
<path d="M634.5 326L88.5 326L88.5 483.5L634.5 483.5" fill="none" stroke="#000" stroke-width="1.4"/>
<line x1="634.5" y1="325.3" x2="634.5" y2="484.2" stroke="#ed2227" stroke-width="1.4" />
<path d="M88.5 473L91.7 473M88.5 462.5L91.7 462.5M88.5 452L91.7 452M88.5 441.5L91.7 441.5M88.5 431L94 431M88.5 420.5L91.7 420.5M88.5 410L91.7 410M88.5 399.5L91.7 399.5M88.5 389L91.7 389M88.5 378.5L94 378.5M88.5 368L91.7 368M88.5 357.5L91.7 357.5M88.5 347L91.7 347M88.5 336.5L91.7 336.5M118.83 483.5L118.83 480.3M118.83 326L118.83 329.2M149.17 483.5L149.17 480.3M149.17 326L149.17 329.2M179.5 483.5L179.5 480.3M179.5 326L179.5 329.2M209.83 483.5L209.83 480.3M209.83 326L209.83 329.2M240.17 483.5L240.17 480.3M240.17 326L240.17 329.2M270.5 483.5L270.5 478M270.5 326L270.5 331.5M300.83 483.5L300.83 480.3M300.83 326L300.83 329.2M331.17 483.5L331.17 480.3M331.17 326L331.17 329.2M361.5 483.5L361.5 480.3M361.5 326L361.5 329.2M391.83 483.5L391.83 480.3M391.83 326L391.83 329.2M422.17 483.5L422.17 480.3M422.17 326L422.17 329.2M452.5 483.5L452.5 478M452.5 326L452.5 331.5M482.83 483.5L482.83 480.3M482.83 326L482.83 329.2M513.17 483.5L513.17 480.3M513.17 326L513.17 329.2M543.5 483.5L543.5 480.3M543.5 326L543.5 329.2M573.83 483.5L573.83 480.3M573.83 326L573.83 329.2M604.17 483.5L604.17 480.3M604.17 326L604.17 329.2" stroke="#000" stroke-width="1.3" fill="none"/>
<path d="M634.5 473L631.3 473M634.5 462.5L631.3 462.5M634.5 452L631.3 452M634.5 441.5L631.3 441.5M634.5 431L629 431M634.5 420.5L631.3 420.5M634.5 410L631.3 410M634.5 399.5L631.3 399.5M634.5 389L631.3 389M634.5 378.5L629 378.5M634.5 368L631.3 368M634.5 357.5L631.3 357.5M634.5 347L631.3 347M634.5 336.5L631.3 336.5" stroke="#ed2227" stroke-width="1.3" fill="none"/>
<text x="83.3" y="490.9" font-size="22" text-anchor="end" fill="#000" >0</text>
<text x="639" y="490.9" font-size="22" text-anchor="start" fill="#ed2227" >0</text>
<text x="83.3" y="438.4" font-size="22" text-anchor="end" fill="#000" >1</text>
<text x="639" y="438.4" font-size="22" text-anchor="start" fill="#ed2227" >1</text>
<text x="83.3" y="385.9" font-size="22" text-anchor="end" fill="#000" >2</text>
<text x="639" y="385.9" font-size="22" text-anchor="start" fill="#ed2227" >2</text>
<text x="83.3" y="333.4" font-size="22" text-anchor="end" fill="#000" >3</text>
<text x="639" y="333.4" font-size="22" text-anchor="start" fill="#ed2227" >3</text>
<text x="343.8" y="348" font-size="19.8" text-anchor="end" fill="#000" >86 s</text>
<text x="396.6" y="348" font-size="19.7" text-anchor="start" fill="#000" >101 s</text>
<text x="588.2" y="356.8" font-size="22.5" text-anchor="middle" fill="#000" >295 K</text>
<g transform="translate(52.4,445) rotate(-90)" fill="#000">
<text x="0.5" y="0" font-size="23.5" font-style="italic" style="font-family:'Liberation Serif', serif">I</text>
<text x="8.6" y="10.4" font-size="17">PL</text>
<text x="30.4" y="0" font-size="21.5">/</text>
<polyline points="46.4,-17 39.6,-6 46.4,5" fill="none" stroke="#000" stroke-width="1.3"/>
<text x="51" y="0" font-size="23.5" font-style="italic" style="font-family:'Liberation Serif', serif">I</text>
<text x="59" y="10.4" font-size="17">PL</text>
<polyline points="81,-17 86.2,-6 81,5" fill="none" stroke="#000" stroke-width="1.3"/>
</g>
<g transform="translate(667.7,369) rotate(90)" fill="#ed2227">
<text x="0.5" y="0" font-size="24" font-style="italic" style="font-family:'Liberation Serif', serif">I</text>
<text x="8.3" y="10.6" font-size="19.5">R</text>
<text x="26.5" y="0" font-size="24">/</text>
<polyline points="41,-16.5 36,-5 41,5" fill="none" stroke="#ed2227" stroke-width="1.3"/>
<text x="46.5" y="0" font-size="24" font-style="italic" style="font-family:'Liberation Serif', serif">I</text>
<text x="54.6" y="10.6" font-size="19.5">R</text>
<polyline points="71.8,-16.5 77,-5 71.8,5" fill="none" stroke="#ed2227" stroke-width="1.3"/>
</g>
<rect x="88.5" y="511" width="546" height="20.8" fill="#f4777f"/>
<rect x="88.5" y="540" width="364" height="21.3" fill="#86d293"/>
<path d="M62.4 531.2H88.5V511H634.5V531.2H653.6" fill="none" stroke="#000" stroke-width="1.9" stroke-linejoin="miter"/>
<path d="M62.4 560.8H88.5V540H452.5V560.8H653.6" fill="none" stroke="#000" stroke-width="1.9" stroke-linejoin="miter"/>
<path d="M62.4 503V571.8H662" fill="none" stroke="#000" stroke-width="1.9"/>
<path d="M674.6 571.7L658 565.2L661.5 571.7L658 578.2Z" fill="#000"/>
<path d="M88.5 571.7L88.5 566.2M270.5 571.7L270.5 566.2M452.5 571.7L452.5 566.2M634.5 571.7L634.5 566.2" stroke="#000" stroke-width="2" fill="none"/>
<text x="92.4" y="529.3" font-size="19.85" text-anchor="start" fill="#000" >750 nm laser</text>
<text x="92.4" y="558.8" font-size="19.85" text-anchor="start" fill="#000" >532 nm laser</text>
<text x="88.5" y="596.1" font-size="22" text-anchor="middle" fill="#000" >0</text>
<text x="270.5" y="596.1" font-size="22" text-anchor="middle" fill="#000" >60</text>
<text x="454.4" y="596.1" font-size="22" text-anchor="middle" fill="#000" >120</text>
<text x="634.5" y="596.1" font-size="22" text-anchor="middle" fill="#000" >180</text>
<text x="362.5" y="621.3" font-size="22.9" text-anchor="middle" fill="#000" >Time (s)</text>
<text x="-0.7" y="676.6" font-size="32" text-anchor="start" fill="#000" font-weight="bold">c</text>
<text x="275.2" y="675.8" font-size="22.8" text-anchor="start">Raman shift (cm<tspan font-size="15.2" dy="-7.7">-1</tspan><tspan dy="7.7">)</tspan></text>
<clipPath id="cc"><rect x="88.5" y="720" width="546" height="261.8"/></clipPath>
<g clip-path="url(#cc)">
<path d="M88.6 981.8 L88.6,978.44 L89.29,979.72 L89.97,979.42 L90.66,979.19 L91.34,979.9 L92.03,979.42 L92.71,979.42 L93.4,980.46 L94.08,978.8 L94.77,979.04 L95.45,979.77 L96.14,979.49 L96.82,979.07 L97.51,979.52 L98.19,979.5 L98.88,980.22 L99.56,979 L100.25,979.24 L100.93,979.13 L101.62,980.19 L102.3,978.24 L102.99,979.1 L103.67,979.37 L104.36,977.79 L105.04,978.89 L105.73,979.47 L106.41,978.32 L107.1,978.85 L107.78,975.62 L108.47,975.59 L109.15,974.97 L109.84,973.33 L110.52,975.8 L111.21,975.15 L111.89,978 L112.58,977.93 L113.26,978.94 L113.95,977.68 L114.63,977.76 L115.32,979.2 L116,978.56 L116.69,979.22 L117.38,978.8 L118.06,979.62 L118.75,980.21 L119.43,980.27 L120.12,978.95 L120.8,977.82 L121.49,979.01 L122.17,979.49 L122.86,978 L123.54,979.01 L124.23,979.07 L124.91,978.96 L125.6,979.17 L126.28,979.25 L126.97,979.91 L127.65,978.67 L128.34,978.98 L129.02,978.09 L129.71,978.92 L130.39,979.66 L131.08,978.14 L131.76,976.34 L132.45,976.81 L133.13,975.93 L133.82,974.62 L134.5,972.86 L135.19,970.82 L135.87,970.79 L136.56,968.86 L137.24,971.52 L137.93,972.84 L138.61,973.51 L139.3,974.92 L139.98,977.2 L140.67,977.58 L141.35,977.81 L142.04,978.69 L142.72,979.85 L143.41,978.44 L144.1,978.37 L144.78,978.72 L145.47,979.58 L146.15,979.16 L146.84,979.43 L147.52,979.27 L148.21,978.31 L148.89,978.18 L149.58,978.72 L150.26,978.8 L150.95,978.73 L151.63,979.16 L152.32,979.2 L153,979.57 L153.69,979.2 L154.37,977.8 L155.06,978.64 L155.74,979.38 L156.43,979.46 L157.11,979.7 L157.8,978.95 L158.48,978.94 L159.17,980.05 L159.85,978.88 L160.54,979.52 L161.22,978.31 L161.91,979.08 L162.59,978.13 L163.28,979.45 L163.96,979.35 L164.65,978.99 L165.33,978.53 L166.02,978.83 L166.7,979.92 L167.39,979.06 L168.07,979.15 L168.76,979.43 L169.44,979.56 L170.13,978.1 L170.81,979.4 L171.5,979.67 L172.19,978.77 L172.87,979.08 L173.56,979.2 L174.24,978.68 L174.93,978.85 L175.61,978.93 L176.3,978.56 L176.98,978.97 L177.67,979.52 L178.35,979.36 L179.04,979.45 L179.72,979.01 L180.41,979.79 L181.09,980.25 L181.78,979.07 L182.46,979.94 L183.15,980.31 L183.83,978.89 L184.52,979.55 L185.2,978.81 L185.89,979.43 L186.57,979.78 L187.26,979.85 L187.94,979.4 L188.63,979.25 L189.31,979.58 L190,979.24 L190.68,980 L191.37,979.05 L192.05,980.15 L192.74,979.16 L193.42,978.61 L194.11,978.36 L194.79,977.97 L195.48,979.96 L196.16,978.53 L196.85,978.25 L197.53,978.37 L198.22,979.53 L198.9,978.69 L199.59,977.78 L200.28,979.82 L200.96,978.57 L201.65,978.13 L202.33,979.17 L203.02,978.18 L203.7,978.8 L204.39,977.76 L205.07,976.37 L205.76,974.03 L206.44,973.3 L207.13,973.04 L207.81,975.96 L208.5,976.9 L209.18,977.23 L209.87,978.04 L210.55,979.46 L211.24,978.31 L211.92,979.07 L212.61,978.56 L213.29,978.62 L213.98,978.06 L214.66,978.75 L215.35,979.98 L216.03,979.68 L216.72,978.38 L217.4,978.99 L218.09,978.13 L218.77,978.66 L219.46,979.29 L220.14,978.15 L220.83,979.32 L221.51,980.09 L222.2,977.53 L222.88,979.99 L223.57,978.41 L224.25,978.22 L224.94,978.7 L225.62,979.84 L226.31,978.15 L227,979.68 L227.68,979.61 L228.37,978.99 L229.05,978.27 L229.74,978.57 L230.42,978.25 L231.11,979.03 L231.79,978.85 L232.48,979.45 L233.16,978.93 L233.85,978.36 L234.53,978.91 L235.22,978.42 L235.9,979.07 L236.59,979.08 L237.27,978.68 L237.96,978.82 L238.64,978.32 L239.33,978.57 L240.01,977.59 L240.7,978.81 L241.38,978.81 L242.07,979.31 L242.75,978.64 L243.44,978.22 L244.12,979.11 L244.81,978.67 L245.49,978.18 L246.18,978.71 L246.86,978.95 L247.55,978.01 L248.23,978.55 L248.92,978.35 L249.6,977.86 L250.29,977.87 L250.97,978.79 L251.66,978.9 L252.34,978.38 L253.03,978.63 L253.71,979.73 L254.4,977.73 L255.09,978.51 L255.77,978.05 L256.46,979.24 L257.14,977.68 L257.83,978.85 L258.51,978.54 L259.2,979.35 L259.88,978.56 L260.57,978.59 L261.25,978.55 L261.94,978.15 L262.62,978.38 L263.31,977.79 L263.99,978.69 L264.68,979.02 L265.36,978.39 L266.05,977.97 L266.73,977.57 L267.42,977.83 L268.1,979.46 L268.79,978.09 L269.47,977.39 L270.16,978.27 L270.84,978.63 L271.53,978.09 L272.21,978.6 L272.9,977.86 L273.58,978.27 L274.27,977.36 L274.95,977.92 L275.64,978.69 L276.32,977.83 L277.01,977.61 L277.69,978.56 L278.38,978.46 L279.06,979.66 L279.75,977.59 L280.43,978.54 L281.12,979.51 L281.8,979.28 L282.49,978.27 L283.18,977.63 L283.86,978.16 L284.55,977.79 L285.23,978.8 L285.92,978.94 L286.6,977.49 L287.29,977.74 L287.97,978.06 L288.66,977.21 L289.34,978.64 L290.03,978.28 L290.71,977.34 L291.4,976.8 L292.08,977.98 L292.77,976.88 L293.45,978.35 L294.14,977.73 L294.82,978.05 L295.51,978.96 L296.19,977.75 L296.88,977.3 L297.56,977.99 L298.25,977.93 L298.93,976.96 L299.62,978.67 L300.3,978.82 L300.99,978.25 L301.67,978.58 L302.36,976.9 L303.04,977.56 L303.73,978.31 L304.41,978.12 L305.1,975.82 L305.78,978.08 L306.47,978.16 L307.15,977.43 L307.84,977.19 L308.52,977.45 L309.21,978.17 L309.9,978.31 L310.58,977.13 L311.27,977.54 L311.95,978.57 L312.64,976.68 L313.32,976.92 L314.01,977.57 L314.69,977.56 L315.38,977.21 L316.06,977.8 L316.75,978.22 L317.43,977.08 L318.12,978.23 L318.8,976.98 L319.49,978.18 L320.17,977.26 L320.86,977.26 L321.54,975.94 L322.23,977.83 L322.91,978.04 L323.6,977.49 L324.28,977.78 L324.97,977.39 L325.65,976.68 L326.34,976.41 L327.02,975.77 L327.71,977.37 L328.39,975.03 L329.08,975.44 L329.76,976.9 L330.45,978.28 L331.13,976.73 L331.82,976.58 L332.5,978.16 L333.19,976.48 L333.87,976.61 L334.56,976.96 L335.24,975.91 L335.93,975.58 L336.61,976.53 L337.3,975.94 L337.99,976.45 L338.67,976.41 L339.36,975.62 L340.04,975.06 L340.73,975.46 L341.41,976.06 L342.1,972.94 L342.78,973.07 L343.47,969.43 L344.15,965.07 L344.84,963.49 L345.52,961.87 L346.21,960.82 L346.89,958.94 L347.58,962.41 L348.26,964.81 L348.95,967.19 L349.63,970.02 L350.32,971.33 L351,971.98 L351.69,972.94 L352.37,969.98 L353.06,966.28 L353.74,963.5 L354.43,960.35 L355.11,959.49 L355.8,959.74 L356.48,961.27 L357.17,965.61 L357.85,967.69 L358.54,970.81 L359.22,969.93 L359.91,971.19 L360.59,970.66 L361.28,969.07 L361.96,968.28 L362.65,967.8 L363.33,965.54 L364.02,966.25 L364.7,963.84 L365.39,964.2 L366.08,966.61 L366.76,965.17 L367.45,968.24 L368.13,968.17 L368.82,969.94 L369.5,969.29 L370.19,969.24 L370.87,970.93 L371.56,971.21 L372.24,969.55 L372.93,968.01 L373.61,968.12 L374.3,967.13 L374.98,964.56 L375.67,965.49 L376.35,960.7 L377.04,957.6 L377.72,950.65 L378.41,944.9 L379.09,936.53 L379.78,924.67 L380.46,913.82 L381.15,899.36 L381.83,891.29 L382.52,888.5 L383.2,894.59 L383.89,903.1 L384.57,917.31 L385.26,928.4 L385.94,938.56 L386.63,948.04 L387.31,952.66 L388,957.49 L388.68,960.92 L389.37,964.09 L390.05,965.97 L390.74,966.32 L391.42,966.24 L392.11,969.71 L392.8,969.28 L393.48,970.62 L394.17,970.18 L394.85,970.89 L395.54,970.75 L396.22,974.12 L396.91,972.64 L397.59,973.17 L398.28,972.68 L398.96,973.33 L399.65,973.41 L400.33,972.52 L401.02,971.7 L401.7,975.42 L402.39,973.58 L403.07,973.16 L403.76,973.43 L404.44,973.72 L405.13,974.5 L405.81,974.2 L406.5,972.93 L407.18,972.66 L407.87,973.4 L408.55,974.1 L409.24,973.37 L409.92,973.6 L410.61,972.97 L411.29,973.26 L411.98,973.79 L412.66,973.12 L413.35,974.12 L414.03,972.52 L414.72,972.16 L415.4,973.89 L416.09,972.55 L416.77,973.52 L417.46,971.77 L418.14,971.72 L418.83,972.4 L419.51,971.2 L420.2,972.05 L420.89,971.91 L421.57,971.51 L422.26,970.78 L422.94,970.52 L423.63,969.69 L424.31,969.88 L425,968.27 L425.68,967.61 L426.37,968.51 L427.05,968.97 L427.74,966.83 L428.42,966.28 L429.11,967.39 L429.79,968.45 L430.48,967.27 L431.16,966.43 L431.85,969.68 L432.53,968.02 L433.22,969.08 L433.9,969.93 L434.59,969.19 L435.27,971.05 L435.96,970.08 L436.64,969.56 L437.33,970.77 L438.01,971.86 L438.7,972.78 L439.38,972.54 L440.07,973.12 L440.75,970.48 L441.44,972.03 L442.12,972.71 L442.81,972.94 L443.49,972.78 L444.18,972.2 L444.86,972.94 L445.55,970.57 L446.23,972.46 L446.92,972.44 L447.6,971.52 L448.29,970.55 L448.98,970.58 L449.66,971.94 L450.35,971.25 L451.03,971.23 L451.72,970.8 L452.4,970.88 L453.09,971.69 L453.77,971.77 L454.46,970.41 L455.14,971.31 L455.83,968.97 L456.51,969.77 L457.2,970.32 L457.88,969.33 L458.57,969.02 L459.25,968.14 L459.94,966.51 L460.62,967.79 L461.31,967.15 L461.99,963.85 L462.68,962.66 L463.36,960.17 L464.05,957.05 L464.73,954 L465.42,948.17 L466.1,944.05 L466.79,935.48 L467.47,927.88 L468.16,918.82 L468.84,907.47 L469.53,901.5 L470.21,904.27 L470.9,907.46 L471.58,913.6 L472.27,922.16 L472.95,933.64 L473.64,941.04 L474.32,949.01 L475.01,950.01 L475.7,956.31 L476.38,959.09 L477.07,961.8 L477.75,963.46 L478.44,965.26 L479.12,967.28 L479.81,967.31 L480.49,968.68 L481.18,968.33 L481.86,970.59 L482.55,970.92 L483.23,970.36 L483.92,970.24 L484.6,971.48 L485.29,972.45 L485.97,972.24 L486.66,972.77 L487.34,971.11 L488.03,972.09 L488.71,971.98 L489.4,972.89 L490.08,973.69 L490.77,972.51 L491.45,972.27 L492.14,973.21 L492.82,973.76 L493.51,973.02 L494.19,974.19 L494.88,973.41 L495.56,974.58 L496.25,974.84 L496.93,973.75 L497.62,973.97 L498.3,972.86 L498.99,974.53 L499.67,974.36 L500.36,975.26 L501.04,975.84 L501.73,975.81 L502.41,974.19 L503.1,975.44 L503.79,973.78 L504.47,973.59 L505.16,974.88 L505.84,973.48 L506.53,974.56 L507.21,973.93 L507.9,974.95 L508.58,974.11 L509.27,975.52 L509.95,974.4 L510.64,975.21 L511.32,975 L512.01,974.46 L512.69,974.82 L513.38,975.02 L514.06,974.45 L514.75,974.42 L515.43,976.03 L516.12,974.63 L516.8,974.57 L517.49,975.62 L518.17,974.81 L518.86,976.06 L519.54,974.08 L520.23,975.31 L520.91,975.21 L521.6,974.3 L522.28,975.28 L522.97,974.76 L523.65,975.96 L524.34,975.63 L525.02,976.23 L525.71,975.39 L526.39,974.51 L527.08,975.1 L527.76,974.64 L528.45,976.02 L529.13,975.93 L529.82,975.64 L530.5,974.9 L531.19,975.06 L531.88,975.34 L532.56,974.89 L533.25,975.45 L533.93,975.37 L534.62,974.42 L535.3,975.79 L535.99,975.24 L536.67,974.22 L537.36,975.31 L538.04,974.88 L538.73,975.83 L539.41,974 L540.1,977.02 L540.78,976.23 L541.47,976.17 L542.15,974.25 L542.84,975.16 L543.52,975.6 L544.21,976.32 L544.89,975.13 L545.58,975.29 L546.26,975.83 L546.95,976.35 L547.63,975.98 L548.32,974.89 L549,974.63 L549.69,974.54 L550.37,974.36 L551.06,975.14 L551.74,973.25 L552.43,973.5 L553.11,972.04 L553.8,971.09 L554.48,971.48 L555.17,971.41 L555.85,969.62 L556.54,970.26 L557.22,971.42 L557.91,973.82 L558.59,972.06 L559.28,972.16 L559.97,972.39 L560.65,974.28 L561.34,974.69 L562.02,974.88 L562.71,974.18 L563.39,975.81 L564.08,975.1 L564.76,975.67 L565.45,974.71 L566.13,975.88 L566.82,974.24 L567.5,974.62 L568.19,974.15 L568.87,973.35 L569.56,972.73 L570.24,974.86 L570.93,972.93 L571.61,973.47 L572.3,974.37 L572.98,973.38 L573.67,974.52 L574.35,973.92 L575.04,975.44 L575.72,975.73 L576.41,974.27 L577.09,973.62 L577.78,974.72 L578.46,974.51 L579.15,975.47 L579.83,976.04 L580.52,975.19 L581.2,973.88 L581.89,976.26 L582.57,975.18 L583.26,976.13 L583.94,974.54 L584.63,973.86 L585.31,975.3 L586,974.54 L586.69,973.09 L587.37,973.98 L588.06,974.67 L588.74,974.52 L589.43,974.83 L590.11,972.44 L590.8,973.32 L591.48,971.6 L592.17,971.37 L592.85,972.16 L593.54,971.59 L594.22,969.99 L594.91,969.88 L595.59,969.06 L596.28,969.85 L596.96,966.66 L597.65,967.01 L598.33,966.82 L599.02,963.48 L599.7,960.12 L600.39,955.33 L601.07,953.8 L601.76,949.59 L602.44,938.69 L603.13,932.2 L603.81,921.77 L604.5,909.75 L605.18,894.58 L605.87,874.46 L606.55,862.41 L607.24,852.27 L607.92,849.04 L608.61,850.53 L609.29,865.86 L609.98,877.9 L610.66,891.54 L611.35,900.77 L612.03,905.89 L612.72,900.84 L613.4,891.86 L614.09,886.43 L614.78,885.63 L615.46,894.15 L616.15,907.7 L616.83,926.21 L617.52,941.5 L618.2,952.69 L618.89,961.39 L619.57,963.5 L620.26,966.5 L620.94,968.32 L621.63,969.15 L622.31,969.42 L623,970.83 L623.68,972.14 L624.37,971.04 L625.05,972.74 L625.74,973.34 L626.42,974.32 L627.11,973.41 L627.79,974.47 L628.48,974.31 L629.16,973.8 L629.85,974.31 L630.53,973.76 L631.22,974.44 L631.9,975.11 L632.59,975.19 L633.27,975.44 L633.96,974.72 L634.64,975.28 L635.33,975.69 L636.01,974.88 L636.01 981.8Z" fill="#dcdcdc" stroke="none"/>
<polyline points="88.6,978.44 89.29,979.72 89.97,979.42 90.66,979.19 91.34,979.9 92.03,979.42 92.71,979.42 93.4,980.46 94.08,978.8 94.77,979.04 95.45,979.77 96.14,979.49 96.82,979.07 97.51,979.52 98.19,979.5 98.88,980.22 99.56,979 100.25,979.24 100.93,979.13 101.62,980.19 102.3,978.24 102.99,979.1 103.67,979.37 104.36,977.79 105.04,978.89 105.73,979.47 106.41,978.32 107.1,978.85 107.78,975.62 108.47,975.59 109.15,974.97 109.84,973.33 110.52,975.8 111.21,975.15 111.89,978 112.58,977.93 113.26,978.94 113.95,977.68 114.63,977.76 115.32,979.2 116,978.56 116.69,979.22 117.38,978.8 118.06,979.62 118.75,980.21 119.43,980.27 120.12,978.95 120.8,977.82 121.49,979.01 122.17,979.49 122.86,978 123.54,979.01 124.23,979.07 124.91,978.96 125.6,979.17 126.28,979.25 126.97,979.91 127.65,978.67 128.34,978.98 129.02,978.09 129.71,978.92 130.39,979.66 131.08,978.14 131.76,976.34 132.45,976.81 133.13,975.93 133.82,974.62 134.5,972.86 135.19,970.82 135.87,970.79 136.56,968.86 137.24,971.52 137.93,972.84 138.61,973.51 139.3,974.92 139.98,977.2 140.67,977.58 141.35,977.81 142.04,978.69 142.72,979.85 143.41,978.44 144.1,978.37 144.78,978.72 145.47,979.58 146.15,979.16 146.84,979.43 147.52,979.27 148.21,978.31 148.89,978.18 149.58,978.72 150.26,978.8 150.95,978.73 151.63,979.16 152.32,979.2 153,979.57 153.69,979.2 154.37,977.8 155.06,978.64 155.74,979.38 156.43,979.46 157.11,979.7 157.8,978.95 158.48,978.94 159.17,980.05 159.85,978.88 160.54,979.52 161.22,978.31 161.91,979.08 162.59,978.13 163.28,979.45 163.96,979.35 164.65,978.99 165.33,978.53 166.02,978.83 166.7,979.92 167.39,979.06 168.07,979.15 168.76,979.43 169.44,979.56 170.13,978.1 170.81,979.4 171.5,979.67 172.19,978.77 172.87,979.08 173.56,979.2 174.24,978.68 174.93,978.85 175.61,978.93 176.3,978.56 176.98,978.97 177.67,979.52 178.35,979.36 179.04,979.45 179.72,979.01 180.41,979.79 181.09,980.25 181.78,979.07 182.46,979.94 183.15,980.31 183.83,978.89 184.52,979.55 185.2,978.81 185.89,979.43 186.57,979.78 187.26,979.85 187.94,979.4 188.63,979.25 189.31,979.58 190,979.24 190.68,980 191.37,979.05 192.05,980.15 192.74,979.16 193.42,978.61 194.11,978.36 194.79,977.97 195.48,979.96 196.16,978.53 196.85,978.25 197.53,978.37 198.22,979.53 198.9,978.69 199.59,977.78 200.28,979.82 200.96,978.57 201.65,978.13 202.33,979.17 203.02,978.18 203.7,978.8 204.39,977.76 205.07,976.37 205.76,974.03 206.44,973.3 207.13,973.04 207.81,975.96 208.5,976.9 209.18,977.23 209.87,978.04 210.55,979.46 211.24,978.31 211.92,979.07 212.61,978.56 213.29,978.62 213.98,978.06 214.66,978.75 215.35,979.98 216.03,979.68 216.72,978.38 217.4,978.99 218.09,978.13 218.77,978.66 219.46,979.29 220.14,978.15 220.83,979.32 221.51,980.09 222.2,977.53 222.88,979.99 223.57,978.41 224.25,978.22 224.94,978.7 225.62,979.84 226.31,978.15 227,979.68 227.68,979.61 228.37,978.99 229.05,978.27 229.74,978.57 230.42,978.25 231.11,979.03 231.79,978.85 232.48,979.45 233.16,978.93 233.85,978.36 234.53,978.91 235.22,978.42 235.9,979.07 236.59,979.08 237.27,978.68 237.96,978.82 238.64,978.32 239.33,978.57 240.01,977.59 240.7,978.81 241.38,978.81 242.07,979.31 242.75,978.64 243.44,978.22 244.12,979.11 244.81,978.67 245.49,978.18 246.18,978.71 246.86,978.95 247.55,978.01 248.23,978.55 248.92,978.35 249.6,977.86 250.29,977.87 250.97,978.79 251.66,978.9 252.34,978.38 253.03,978.63 253.71,979.73 254.4,977.73 255.09,978.51 255.77,978.05 256.46,979.24 257.14,977.68 257.83,978.85 258.51,978.54 259.2,979.35 259.88,978.56 260.57,978.59 261.25,978.55 261.94,978.15 262.62,978.38 263.31,977.79 263.99,978.69 264.68,979.02 265.36,978.39 266.05,977.97 266.73,977.57 267.42,977.83 268.1,979.46 268.79,978.09 269.47,977.39 270.16,978.27 270.84,978.63 271.53,978.09 272.21,978.6 272.9,977.86 273.58,978.27 274.27,977.36 274.95,977.92 275.64,978.69 276.32,977.83 277.01,977.61 277.69,978.56 278.38,978.46 279.06,979.66 279.75,977.59 280.43,978.54 281.12,979.51 281.8,979.28 282.49,978.27 283.18,977.63 283.86,978.16 284.55,977.79 285.23,978.8 285.92,978.94 286.6,977.49 287.29,977.74 287.97,978.06 288.66,977.21 289.34,978.64 290.03,978.28 290.71,977.34 291.4,976.8 292.08,977.98 292.77,976.88 293.45,978.35 294.14,977.73 294.82,978.05 295.51,978.96 296.19,977.75 296.88,977.3 297.56,977.99 298.25,977.93 298.93,976.96 299.62,978.67 300.3,978.82 300.99,978.25 301.67,978.58 302.36,976.9 303.04,977.56 303.73,978.31 304.41,978.12 305.1,975.82 305.78,978.08 306.47,978.16 307.15,977.43 307.84,977.19 308.52,977.45 309.21,978.17 309.9,978.31 310.58,977.13 311.27,977.54 311.95,978.57 312.64,976.68 313.32,976.92 314.01,977.57 314.69,977.56 315.38,977.21 316.06,977.8 316.75,978.22 317.43,977.08 318.12,978.23 318.8,976.98 319.49,978.18 320.17,977.26 320.86,977.26 321.54,975.94 322.23,977.83 322.91,978.04 323.6,977.49 324.28,977.78 324.97,977.39 325.65,976.68 326.34,976.41 327.02,975.77 327.71,977.37 328.39,975.03 329.08,975.44 329.76,976.9 330.45,978.28 331.13,976.73 331.82,976.58 332.5,978.16 333.19,976.48 333.87,976.61 334.56,976.96 335.24,975.91 335.93,975.58 336.61,976.53 337.3,975.94 337.99,976.45 338.67,976.41 339.36,975.62 340.04,975.06 340.73,975.46 341.41,976.06 342.1,972.94 342.78,973.07 343.47,969.43 344.15,965.07 344.84,963.49 345.52,961.87 346.21,960.82 346.89,958.94 347.58,962.41 348.26,964.81 348.95,967.19 349.63,970.02 350.32,971.33 351,971.98 351.69,972.94 352.37,969.98 353.06,966.28 353.74,963.5 354.43,960.35 355.11,959.49 355.8,959.74 356.48,961.27 357.17,965.61 357.85,967.69 358.54,970.81 359.22,969.93 359.91,971.19 360.59,970.66 361.28,969.07 361.96,968.28 362.65,967.8 363.33,965.54 364.02,966.25 364.7,963.84 365.39,964.2 366.08,966.61 366.76,965.17 367.45,968.24 368.13,968.17 368.82,969.94 369.5,969.29 370.19,969.24 370.87,970.93 371.56,971.21 372.24,969.55 372.93,968.01 373.61,968.12 374.3,967.13 374.98,964.56 375.67,965.49 376.35,960.7 377.04,957.6 377.72,950.65 378.41,944.9 379.09,936.53 379.78,924.67 380.46,913.82 381.15,899.36 381.83,891.29 382.52,888.5 383.2,894.59 383.89,903.1 384.57,917.31 385.26,928.4 385.94,938.56 386.63,948.04 387.31,952.66 388,957.49 388.68,960.92 389.37,964.09 390.05,965.97 390.74,966.32 391.42,966.24 392.11,969.71 392.8,969.28 393.48,970.62 394.17,970.18 394.85,970.89 395.54,970.75 396.22,974.12 396.91,972.64 397.59,973.17 398.28,972.68 398.96,973.33 399.65,973.41 400.33,972.52 401.02,971.7 401.7,975.42 402.39,973.58 403.07,973.16 403.76,973.43 404.44,973.72 405.13,974.5 405.81,974.2 406.5,972.93 407.18,972.66 407.87,973.4 408.55,974.1 409.24,973.37 409.92,973.6 410.61,972.97 411.29,973.26 411.98,973.79 412.66,973.12 413.35,974.12 414.03,972.52 414.72,972.16 415.4,973.89 416.09,972.55 416.77,973.52 417.46,971.77 418.14,971.72 418.83,972.4 419.51,971.2 420.2,972.05 420.89,971.91 421.57,971.51 422.26,970.78 422.94,970.52 423.63,969.69 424.31,969.88 425,968.27 425.68,967.61 426.37,968.51 427.05,968.97 427.74,966.83 428.42,966.28 429.11,967.39 429.79,968.45 430.48,967.27 431.16,966.43 431.85,969.68 432.53,968.02 433.22,969.08 433.9,969.93 434.59,969.19 435.27,971.05 435.96,970.08 436.64,969.56 437.33,970.77 438.01,971.86 438.7,972.78 439.38,972.54 440.07,973.12 440.75,970.48 441.44,972.03 442.12,972.71 442.81,972.94 443.49,972.78 444.18,972.2 444.86,972.94 445.55,970.57 446.23,972.46 446.92,972.44 447.6,971.52 448.29,970.55 448.98,970.58 449.66,971.94 450.35,971.25 451.03,971.23 451.72,970.8 452.4,970.88 453.09,971.69 453.77,971.77 454.46,970.41 455.14,971.31 455.83,968.97 456.51,969.77 457.2,970.32 457.88,969.33 458.57,969.02 459.25,968.14 459.94,966.51 460.62,967.79 461.31,967.15 461.99,963.85 462.68,962.66 463.36,960.17 464.05,957.05 464.73,954 465.42,948.17 466.1,944.05 466.79,935.48 467.47,927.88 468.16,918.82 468.84,907.47 469.53,901.5 470.21,904.27 470.9,907.46 471.58,913.6 472.27,922.16 472.95,933.64 473.64,941.04 474.32,949.01 475.01,950.01 475.7,956.31 476.38,959.09 477.07,961.8 477.75,963.46 478.44,965.26 479.12,967.28 479.81,967.31 480.49,968.68 481.18,968.33 481.86,970.59 482.55,970.92 483.23,970.36 483.92,970.24 484.6,971.48 485.29,972.45 485.97,972.24 486.66,972.77 487.34,971.11 488.03,972.09 488.71,971.98 489.4,972.89 490.08,973.69 490.77,972.51 491.45,972.27 492.14,973.21 492.82,973.76 493.51,973.02 494.19,974.19 494.88,973.41 495.56,974.58 496.25,974.84 496.93,973.75 497.62,973.97 498.3,972.86 498.99,974.53 499.67,974.36 500.36,975.26 501.04,975.84 501.73,975.81 502.41,974.19 503.1,975.44 503.79,973.78 504.47,973.59 505.16,974.88 505.84,973.48 506.53,974.56 507.21,973.93 507.9,974.95 508.58,974.11 509.27,975.52 509.95,974.4 510.64,975.21 511.32,975 512.01,974.46 512.69,974.82 513.38,975.02 514.06,974.45 514.75,974.42 515.43,976.03 516.12,974.63 516.8,974.57 517.49,975.62 518.17,974.81 518.86,976.06 519.54,974.08 520.23,975.31 520.91,975.21 521.6,974.3 522.28,975.28 522.97,974.76 523.65,975.96 524.34,975.63 525.02,976.23 525.71,975.39 526.39,974.51 527.08,975.1 527.76,974.64 528.45,976.02 529.13,975.93 529.82,975.64 530.5,974.9 531.19,975.06 531.88,975.34 532.56,974.89 533.25,975.45 533.93,975.37 534.62,974.42 535.3,975.79 535.99,975.24 536.67,974.22 537.36,975.31 538.04,974.88 538.73,975.83 539.41,974 540.1,977.02 540.78,976.23 541.47,976.17 542.15,974.25 542.84,975.16 543.52,975.6 544.21,976.32 544.89,975.13 545.58,975.29 546.26,975.83 546.95,976.35 547.63,975.98 548.32,974.89 549,974.63 549.69,974.54 550.37,974.36 551.06,975.14 551.74,973.25 552.43,973.5 553.11,972.04 553.8,971.09 554.48,971.48 555.17,971.41 555.85,969.62 556.54,970.26 557.22,971.42 557.91,973.82 558.59,972.06 559.28,972.16 559.97,972.39 560.65,974.28 561.34,974.69 562.02,974.88 562.71,974.18 563.39,975.81 564.08,975.1 564.76,975.67 565.45,974.71 566.13,975.88 566.82,974.24 567.5,974.62 568.19,974.15 568.87,973.35 569.56,972.73 570.24,974.86 570.93,972.93 571.61,973.47 572.3,974.37 572.98,973.38 573.67,974.52 574.35,973.92 575.04,975.44 575.72,975.73 576.41,974.27 577.09,973.62 577.78,974.72 578.46,974.51 579.15,975.47 579.83,976.04 580.52,975.19 581.2,973.88 581.89,976.26 582.57,975.18 583.26,976.13 583.94,974.54 584.63,973.86 585.31,975.3 586,974.54 586.69,973.09 587.37,973.98 588.06,974.67 588.74,974.52 589.43,974.83 590.11,972.44 590.8,973.32 591.48,971.6 592.17,971.37 592.85,972.16 593.54,971.59 594.22,969.99 594.91,969.88 595.59,969.06 596.28,969.85 596.96,966.66 597.65,967.01 598.33,966.82 599.02,963.48 599.7,960.12 600.39,955.33 601.07,953.8 601.76,949.59 602.44,938.69 603.13,932.2 603.81,921.77 604.5,909.75 605.18,894.58 605.87,874.46 606.55,862.41 607.24,852.27 607.92,849.04 608.61,850.53 609.29,865.86 609.98,877.9 610.66,891.54 611.35,900.77 612.03,905.89 612.72,900.84 613.4,891.86 614.09,886.43 614.78,885.63 615.46,894.15 616.15,907.7 616.83,926.21 617.52,941.5 618.2,952.69 618.89,961.39 619.57,963.5 620.26,966.5 620.94,968.32 621.63,969.15 622.31,969.42 623,970.83 623.68,972.14 624.37,971.04 625.05,972.74 625.74,973.34 626.42,974.32 627.11,973.41 627.79,974.47 628.48,974.31 629.16,973.8 629.85,974.31 630.53,973.76 631.22,974.44 631.9,975.11 632.59,975.19 633.27,975.44 633.96,974.72 634.64,975.28 635.33,975.69 636.01,974.88" fill="none" stroke="#3a3a3a" stroke-width="1.1" stroke-linejoin="round"/>
<polyline points="88.6,964.4 89.29,965.48 89.97,967.5 90.66,963.72 91.34,964.09 92.03,964.43 92.71,965.35 93.4,966.11 94.08,964.91 94.77,964 95.45,964.68 96.14,964.69 96.82,965.3 97.51,963.71 98.19,963.89 98.88,965.78 99.56,962.81 100.25,962.72 100.93,962.64 101.62,964.44 102.3,964.52 102.99,966.36 103.67,962.53 104.36,968.1 105.04,964.47 105.73,964.05 106.41,961.09 107.1,962.04 107.78,963.06 108.47,962.99 109.15,960.58 109.84,958.4 110.52,958.99 111.21,960.52 111.89,962.63 112.58,962.56 113.26,960.79 113.95,965.46 114.63,963.45 115.32,960.44 116,962.62 116.69,964.65 117.38,962.46 118.06,965.26 118.75,963.76 119.43,960.69 120.12,960.01 120.8,967.13 121.49,962.34 122.17,959.85 122.86,964.76 123.54,963.14 124.23,960.63 124.91,964.57 125.6,962.65 126.28,963.63 126.97,967.3 127.65,962.71 128.34,963.69 129.02,961.35 129.71,958.84 130.39,961.43 131.08,963.17 131.76,960.85 132.45,960.43 133.13,957.33 133.82,961.27 134.5,959.04 135.19,959.77 135.87,952.56 136.56,954.36 137.24,957.02 137.93,958.79 138.61,960.02 139.3,962.15 139.98,961.88 140.67,962.96 141.35,959.54 142.04,962.01 142.72,964.48 143.41,964.1 144.1,960.55 144.78,962.09 145.47,962.43 146.15,961.59 146.84,959.86 147.52,965.51 148.21,964.56 148.89,966.57 149.58,962.06 150.26,963.81 150.95,964.4 151.63,964.57 152.32,961.63 153,963.3 153.69,964.08 154.37,960.46 155.06,965.09 155.74,965.52 156.43,957.71 157.11,963.68 157.8,964.02 158.48,964.38 159.17,963.17 159.85,961.29 160.54,961.34 161.22,961.75 161.91,963.4 162.59,965.84 163.28,962.23 163.96,959.7 164.65,960.6 165.33,963.1 166.02,961.11 166.7,963.51 167.39,962.82 168.07,965.21 168.76,963.32 169.44,962.38 170.13,962.99 170.81,961.06 171.5,958.77 172.19,959.9 172.87,963.21 173.56,964.06 174.24,963.88 174.93,964.53 175.61,962.45 176.3,961.64 176.98,962.11 177.67,962.07 178.35,962.13 179.04,962.71 179.72,963.94 180.41,958.87 181.09,960.24 181.78,964.24 182.46,964.21 183.15,963.54 183.83,962.25 184.52,959.71 185.2,960.2 185.89,960.07 186.57,960 187.26,959.94 187.94,960.69 188.63,961.25 189.31,962.41 190,965.74 190.68,962.39 191.37,958.38 192.05,963.2 192.74,963.36 193.42,959.94 194.11,961.86 194.79,963 195.48,958.76 196.16,960.67 196.85,960.37 197.53,963.09 198.22,960.86 198.9,961.08 199.59,960.22 200.28,959.4 200.96,959.4 201.65,961.34 202.33,960.15 203.02,963.8 203.7,959.54 204.39,958.47 205.07,959.34 205.76,958.55 206.44,955.89 207.13,959.15 207.81,957.1 208.5,958.82 209.18,962.59 209.87,961.02 210.55,959.1 211.24,959.21 211.92,959.35 212.61,961.8 213.29,962.2 213.98,962.31 214.66,960.25 215.35,956.54 216.03,958.52 216.72,958.13 217.4,958.62 218.09,964.83 218.77,961.85 219.46,962.32 220.14,958.77 220.83,957.83 221.51,962.77 222.2,961.27 222.88,960.16 223.57,962.35 224.25,962.63 224.94,962.72 225.62,959.39 226.31,963.15 227,958.79 227.68,960.97 228.37,959.53 229.05,957.81 229.74,962.47 230.42,962.74 231.11,960.07 231.79,963.13 232.48,962.46 233.16,961.11 233.85,960.49 234.53,963.45 235.22,961.57 235.9,959.47 236.59,957.81 237.27,964.84 237.96,957.81 238.64,958.68 239.33,962.86 240.01,963.65 240.7,959.57 241.38,961.33 242.07,960.1 242.75,958.5 243.44,961.12 244.12,959.93 244.81,959.22 245.49,958.29 246.18,956.37 246.86,956.46 247.55,959.57 248.23,960.57 248.92,954.88 249.6,958.59 250.29,959.01 250.97,962.29 251.66,958.17 252.34,961.51 253.03,960.77 253.71,962.64 254.4,960.83 255.09,959.52 255.77,962.87 256.46,961.49 257.14,959.63 257.83,962.16 258.51,962.08 259.2,961.09 259.88,962.29 260.57,957.77 261.25,961.25 261.94,957.28 262.62,956.87 263.31,961.51 263.99,958.69 264.68,959.78 265.36,961.19 266.05,959.33 266.73,959.05 267.42,956.85 268.1,956.07 268.79,960.78 269.47,959.15 270.16,956.97 270.84,955.44 271.53,963.56 272.21,955.07 272.9,958.28 273.58,954.35 274.27,958.73 274.95,959.59 275.64,957.54 276.32,954.92 277.01,957.48 277.69,962.9 278.38,955.88 279.06,961.1 279.75,959.6 280.43,959.98 281.12,961.49 281.8,960.1 282.49,959.44 283.18,958.53 283.86,957.19 284.55,957.79 285.23,960.4 285.92,957.34 286.6,954.61 287.29,954.61 287.97,956.46 288.66,955.28 289.34,954.59 290.03,953.45 290.71,952.61 291.4,957.28 292.08,957.12 292.77,952.98 293.45,952.72 294.14,952.67 294.82,961.7 295.51,956.57 296.19,963.65 296.88,954.08 297.56,955.57 298.25,955.46 298.93,955.79 299.62,952.22 300.3,955.92 300.99,952.61 301.67,953.63 302.36,953.97 303.04,953.59 303.73,954.31 304.41,957.11 305.1,952.57 305.78,952.45 306.47,954.42 307.15,952.14 307.84,951.59 308.52,956.84 309.21,953.9 309.9,954.52 310.58,955.54 311.27,952.35 311.95,955.13 312.64,953.98 313.32,952.15 314.01,951.75 314.69,951.73 315.38,946.83 316.06,953.67 316.75,951.69 317.43,955.31 318.12,950.96 318.8,949.18 319.49,948.95 320.17,953.58 320.86,952.6 321.54,948.59 322.23,951.97 322.91,949.21 323.6,954.07 324.28,947.96 324.97,948.79 325.65,950.15 326.34,953.32 327.02,951.6 327.71,950.71 328.39,950.34 329.08,951.2 329.76,951.41 330.45,950.26 331.13,947.04 331.82,955.8 332.5,954.05 333.19,954.41 333.87,952.07 334.56,954.72 335.24,948.64 335.93,949.78 336.61,950.63 337.3,951.68 337.99,949.38 338.67,949.2 339.36,948.64 340.04,951.21 340.73,947.17 341.41,952.25 342.1,943.86 342.78,954.31 343.47,945.16 344.15,944.17 344.84,934.96 345.52,939.42 346.21,927.44 346.89,939.03 347.58,930.02 348.26,937.94 348.95,941.91 349.63,942.76 350.32,938.93 351,942.75 351.69,950.82 352.37,939.28 353.06,939.59 353.74,942.44 354.43,932.4 355.11,937.38 355.8,933.41 356.48,935.39 357.17,940.89 357.85,939.63 358.54,946.52 359.22,944.29 359.91,946.87 360.59,945.67 361.28,938.95 361.96,942.95 362.65,945.03 363.33,940.65 364.02,941.34 364.7,938.18 365.39,937.83 366.08,938.85 366.76,940.03 367.45,943.12 368.13,941.27 368.82,940.3 369.5,945.55 370.19,943.94 370.87,943.3 371.56,939.28 372.24,938.97 372.93,943.29 373.61,939.61 374.3,942.78 374.98,939.11 375.67,933.23 376.35,927.44 377.04,921.19 377.72,918.99 378.41,914.33 379.09,895.85 379.78,884.35 380.46,865.49 381.15,850.93 381.83,836.14 382.52,833.41 383.2,839.45 383.89,860.28 384.57,869.13 385.26,891.24 385.94,901.32 386.63,904.49 387.31,918.12 388,929.24 388.68,924.33 389.37,929.16 390.05,931.06 390.74,935.8 391.42,936.67 392.11,939.48 392.8,941.71 393.48,935.67 394.17,941.9 394.85,942.67 395.54,942.91 396.22,936.42 396.91,939.5 397.59,943.29 398.28,942.43 398.96,940.86 399.65,939.82 400.33,947.1 401.02,939.73 401.7,942.98 402.39,944.3 403.07,943.35 403.76,939.77 404.44,936.8 405.13,941.4 405.81,940.05 406.5,943.95 407.18,939.93 407.87,938.78 408.55,945.47 409.24,942.4 409.92,938.32 410.61,945.75 411.29,941.4 411.98,938.25 412.66,944.98 413.35,940.92 414.03,939.38 414.72,936.64 415.4,943.01 416.09,935.47 416.77,937.62 417.46,934.52 418.14,934.19 418.83,936.25 419.51,935.24 420.2,941.61 420.89,939.71 421.57,937.85 422.26,934.9 422.94,929.81 423.63,937.75 424.31,931.94 425,934.31 425.68,934.19 426.37,922.97 427.05,926.9 427.74,920.96 428.42,922.09 429.11,929.27 429.79,932.6 430.48,919.27 431.16,928.33 431.85,931.48 432.53,925.92 433.22,928.59 433.9,932.1 434.59,931.79 435.27,930.85 435.96,931.83 436.64,930.23 437.33,934.4 438.01,934.82 438.7,932.17 439.38,933.41 440.07,931.15 440.75,935.62 441.44,935.26 442.12,938.7 442.81,930.3 443.49,939.57 444.18,934.52 444.86,938 445.55,934.08 446.23,932.75 446.92,940.3 447.6,935.69 448.29,940.55 448.98,930.38 449.66,936.18 450.35,939.69 451.03,936.77 451.72,930.17 452.4,929.44 453.09,929.94 453.77,936.36 454.46,934.1 455.14,928.06 455.83,935.46 456.51,933.84 457.2,935.43 457.88,935.63 458.57,927.21 459.25,928.41 459.94,928.18 460.62,926.75 461.31,924.01 461.99,920.77 462.68,924.16 463.36,922.94 464.05,922.35 464.73,910.35 465.42,911.29 466.1,908.82 466.79,895.65 467.47,884.77 468.16,870.46 468.84,859.69 469.53,861.94 470.21,861.17 470.9,863.43 471.58,876.52 472.27,881.39 472.95,888.73 473.64,899.21 474.32,912.99 475.01,916.73 475.7,911.62 476.38,923.55 477.07,919.75 477.75,922.15 478.44,927.04 479.12,930.56 479.81,927.37 480.49,931.87 481.18,930.11 481.86,929.7 482.55,932.9 483.23,931.64 483.92,932.23 484.6,935.57 485.29,932.35 485.97,934.06 486.66,938.18 487.34,933.5 488.03,933.5 488.71,934.71 489.4,939.6 490.08,930.49 490.77,930.91 491.45,931.13 492.14,932.29 492.82,937.49 493.51,933.09 494.19,936.54 494.88,926.52 495.56,935.32 496.25,931.53 496.93,938.73 497.62,937.56 498.3,935.52 498.99,931.54 499.67,932.07 500.36,932.93 501.04,939.85 501.73,930.28 502.41,937.01 503.1,928.92 503.79,928.21 504.47,931.64 505.16,931.21 505.84,938.51 506.53,926.29 507.21,933.94 507.9,931.53 508.58,937.54 509.27,935.09 509.95,938.75 510.64,935.81 511.32,935.07 512.01,934.38 512.69,930.84 513.38,933.82 514.06,934.65 514.75,935.38 515.43,929.21 516.12,937.48 516.8,931.96 517.49,941.99 518.17,938.64 518.86,934.67 519.54,936.56 520.23,926.69 520.91,928.14 521.6,941.11 522.28,939.79 522.97,936.97 523.65,931.17 524.34,933.16 525.02,935.78 525.71,941.31 526.39,939.62 527.08,945.44 527.76,941.95 528.45,935.93 529.13,934.89 529.82,941.47 530.5,937.18 531.19,932.57 531.88,937.18 532.56,938.72 533.25,935.97 533.93,936.32 534.62,937.8 535.3,939.79 535.99,939.55 536.67,938.06 537.36,940.12 538.04,934.45 538.73,935.9 539.41,935.41 540.1,932.64 540.78,934.11 541.47,934.7 542.15,937.99 542.84,939.8 543.52,932.31 544.21,941.43 544.89,941.34 545.58,942.16 546.26,938.93 546.95,938.35 547.63,936.45 548.32,940.15 549,944.58 549.69,938.12 550.37,935.79 551.06,938.26 551.74,938.26 552.43,935.53 553.11,932.19 553.8,936.28 554.48,940.07 555.17,937.03 555.85,935.66 556.54,941.03 557.22,933.29 557.91,938.72 558.59,935.41 559.28,937.1 559.97,939.33 560.65,934.02 561.34,941.19 562.02,941.92 562.71,939.32 563.39,937.89 564.08,940.53 564.76,943.5 565.45,938.44 566.13,938.58 566.82,933.97 567.5,940.64 568.19,939.1 568.87,941.26 569.56,943.96 570.24,939.28 570.93,937.14 571.61,943.07 572.3,942.4 572.98,944.25 573.67,937.09 574.35,943.25 575.04,939.9 575.72,944.35 576.41,941.73 577.09,943.9 577.78,949.04 578.46,942 579.15,940.74 579.83,948.43 580.52,942.88 581.2,943.67 581.89,945.54 582.57,943.06 583.26,947.92 583.94,941.42 584.63,938.58 585.31,945.66 586,942.03 586.69,937.51 587.37,941.21 588.06,942.95 588.74,943.94 589.43,940.52 590.11,941.23 590.8,938.71 591.48,944.89 592.17,936.78 592.85,940.9 593.54,937.33 594.22,941.07 594.91,942.42 595.59,939.67 596.28,940.28 596.96,937.74 597.65,933.61 598.33,931.06 599.02,932.4 599.7,932.98 600.39,930.25 601.07,923.38 601.76,917.02 602.44,916.74 603.13,908.79 603.81,902.44 604.5,887.45 605.18,871.29 605.87,877.37 606.55,848.9 607.24,844.57 607.92,851.95 608.61,841.7 609.29,853.57 609.98,863.07 610.66,882.49 611.35,874.01 612.03,886.68 612.72,887.05 613.4,872.82 614.09,870.85 614.78,868.49 615.46,873.6 616.15,900.96 616.83,899.33 617.52,919.81 618.2,926.63 618.89,930.48 619.57,939.19 620.26,938.08 620.94,938.1 621.63,941.48 622.31,940.68 623,947.45 623.68,946.79 624.37,947.15 625.05,943.23 625.74,934.07 626.42,944.32 627.11,945.99 627.79,946.25 628.48,943.82 629.16,945.03 629.85,950.55 630.53,945.08 631.22,948.31 631.9,946.44 632.59,954.35 633.27,953.37 633.96,947.78 634.64,954.25 635.33,948.57 636.01,948.81" fill="none" stroke="#f7941d" stroke-width="1.5" stroke-linejoin="round"/>
<polyline points="88.6,920.03 89.29,919.19 89.97,919.54 90.66,918.78 91.34,921.99 92.03,920.3 92.71,908.38 93.4,915.33 94.08,917.24 94.77,917.94 95.45,922.24 96.14,918.24 96.82,919.96 97.51,914.99 98.19,922.3 98.88,927.96 99.56,920.51 100.25,915.25 100.93,907.92 101.62,913.52 102.3,921.45 102.99,918.16 103.67,920.91 104.36,917.53 105.04,920.1 105.73,922.71 106.41,913.45 107.1,913.56 107.78,913.95 108.47,910.54 109.15,902.3 109.84,910 110.52,912.41 111.21,907.9 111.89,919.38 112.58,910.03 113.26,916.93 113.95,917.37 114.63,913.59 115.32,907.04 116,917.03 116.69,909.82 117.38,912.08 118.06,919.33 118.75,909.51 119.43,916.65 120.12,919.19 120.8,916.18 121.49,915.74 122.17,910.01 122.86,915.41 123.54,905.83 124.23,911.05 124.91,914.9 125.6,915.25 126.28,910.61 126.97,920.04 127.65,920.52 128.34,914.85 129.02,908.19 129.71,909.86 130.39,910.19 131.08,910.7 131.76,918.46 132.45,909.44 133.13,914.44 133.82,901.26 134.5,903.21 135.19,902 135.87,898.9 136.56,899.41 137.24,900.91 137.93,901.92 138.61,907.63 139.3,912.19 139.98,905.78 140.67,901.61 141.35,903.87 142.04,909.37 142.72,905.84 143.41,910.4 144.1,906.78 144.78,911.02 145.47,907.7 146.15,899.52 146.84,904.78 147.52,901.52 148.21,911.31 148.89,910.83 149.58,907.91 150.26,905.2 150.95,908.44 151.63,902.99 152.32,909.72 153,901.25 153.69,902.85 154.37,911.86 155.06,904.31 155.74,907.74 156.43,902.17 157.11,908.89 157.8,905.05 158.48,903.9 159.17,918.31 159.85,914.36 160.54,905.39 161.22,906.4 161.91,901.24 162.59,904.63 163.28,911.17 163.96,904.01 164.65,908.71 165.33,906.32 166.02,907.48 166.7,903.6 167.39,911.37 168.07,909.96 168.76,914.78 169.44,895.3 170.13,909.19 170.81,908.51 171.5,909.72 172.19,907.37 172.87,906.38 173.56,901.61 174.24,903.48 174.93,902.72 175.61,906.74 176.3,904.35 176.98,898.5 177.67,903.96 178.35,902.41 179.04,912.78 179.72,901.3 180.41,902.38 181.09,897.68 181.78,915.72 182.46,903.19 183.15,903.79 183.83,902.79 184.52,905.92 185.2,902.07 185.89,899.78 186.57,902.66 187.26,904.1 187.94,903.59 188.63,904.22 189.31,902.13 190,905.4 190.68,911 191.37,895.69 192.05,909.65 192.74,902.06 193.42,907.29 194.11,902.51 194.79,905.44 195.48,901.08 196.16,904.56 196.85,906.48 197.53,898.98 198.22,894.12 198.9,898.47 199.59,899.39 200.28,904.55 200.96,899.91 201.65,897.28 202.33,902.1 203.02,894.6 203.7,898.35 204.39,895.47 205.07,897.89 205.76,896.11 206.44,891.63 207.13,891.22 207.81,892.78 208.5,900.59 209.18,900.13 209.87,897.19 210.55,905.83 211.24,892.24 211.92,895.52 212.61,896.68 213.29,900.07 213.98,892.75 214.66,897.72 215.35,887.39 216.03,894.3 216.72,902.99 217.4,892.41 218.09,898.16 218.77,897.98 219.46,896.51 220.14,895.83 220.83,893.86 221.51,891.29 222.2,892.59 222.88,898.01 223.57,900.83 224.25,898.09 224.94,892.4 225.62,889.83 226.31,885.23 227,900.05 227.68,893.06 228.37,894.33 229.05,894.96 229.74,892.17 230.42,893.82 231.11,893.71 231.79,895.33 232.48,890.12 233.16,886.74 233.85,883.75 234.53,893.95 235.22,896.3 235.9,892.28 236.59,894.85 237.27,885.62 237.96,894.37 238.64,889.84 239.33,896.52 240.01,891.49 240.7,888.65 241.38,881.93 242.07,892.56 242.75,887.17 243.44,898.94 244.12,894.48 244.81,892.36 245.49,890.61 246.18,885.85 246.86,884.65 247.55,895.52 248.23,884.85 248.92,892.81 249.6,878.1 250.29,885.45 250.97,886.09 251.66,887.57 252.34,886.7 253.03,886.37 253.71,889.65 254.4,882.37 255.09,884.58 255.77,882.04 256.46,885.91 257.14,882.07 257.83,889.07 258.51,867.17 259.2,888.18 259.88,886.52 260.57,879.12 261.25,877.42 261.94,887.29 262.62,891.33 263.31,889.67 263.99,887.3 264.68,885.91 265.36,882.43 266.05,876.03 266.73,875.43 267.42,883.71 268.1,877.5 268.79,875.4 269.47,872.38 270.16,880.07 270.84,882.74 271.53,874.71 272.21,870.42 272.9,880.61 273.58,867.48 274.27,868.32 274.95,878.37 275.64,884.99 276.32,879.77 277.01,878.33 277.69,873.56 278.38,884.87 279.06,863.31 279.75,863.6 280.43,879.43 281.12,885.22 281.8,876.2 282.49,872.92 283.18,867.92 283.86,871.07 284.55,875.7 285.23,884.81 285.92,871.61 286.6,869.69 287.29,875.59 287.97,872.34 288.66,872.55 289.34,874.74 290.03,879.39 290.71,871.3 291.4,880.45 292.08,865.35 292.77,877.37 293.45,869.82 294.14,876.14 294.82,870.08 295.51,873.05 296.19,868.92 296.88,875.79 297.56,880.1 298.25,872.74 298.93,872.95 299.62,878.93 300.3,874.35 300.99,879.39 301.67,869.58 302.36,871.97 303.04,869.65 303.73,855.5 304.41,868.4 305.1,867 305.78,865.4 306.47,869.29 307.15,871.5 307.84,863.32 308.52,862.26 309.21,883.41 309.9,868.24 310.58,868.97 311.27,869.96 311.95,859.89 312.64,869.33 313.32,861.47 314.01,868.91 314.69,867.93 315.38,861.48 316.06,869.27 316.75,865.88 317.43,870.81 318.12,869.38 318.8,860.3 319.49,860.8 320.17,869.99 320.86,869.89 321.54,848.94 322.23,866.25 322.91,867.18 323.6,859.18 324.28,866 324.97,863.38 325.65,856.03 326.34,855.1 327.02,861.44 327.71,852.48 328.39,860.46 329.08,860.66 329.76,859 330.45,860.34 331.13,855.3 331.82,856.32 332.5,861.94 333.19,856.18 333.87,859.91 334.56,859.87 335.24,857.2 335.93,850.42 336.61,854.43 337.3,848.57 337.99,846.65 338.67,855.49 339.36,858.45 340.04,859.13 340.73,852.52 341.41,848.38 342.1,843.07 342.78,858.09 343.47,842.69 344.15,838.75 344.84,827.18 345.52,837.79 346.21,837.65 346.89,847.26 347.58,844.9 348.26,849.58 348.95,851.51 349.63,852.68 350.32,857.34 351,848.91 351.69,845.16 352.37,841.07 353.06,843.54 353.74,833.59 354.43,830.74 355.11,845.03 355.8,837.79 356.48,845.71 357.17,846.65 357.85,842.15 358.54,845.88 359.22,837.62 359.91,834.55 360.59,843.83 361.28,846.58 361.96,845.01 362.65,842.64 363.33,837.46 364.02,843.91 364.7,835.06 365.39,840.01 366.08,832.77 366.76,832 367.45,830.88 368.13,843.19 368.82,850.97 369.5,853.28 370.19,844.96 370.87,851.38 371.56,852.23 372.24,843.69 372.93,846.49 373.61,835.1 374.3,825.85 374.98,836.96 375.67,830.93 376.35,839.13 377.04,823.27 377.72,822.49 378.41,816.72 379.09,811.23 379.78,773.66 380.46,781.64 381.15,763.79 381.83,743.27 382.52,738.12 383.2,744.74 383.89,759.37 384.57,781.97 385.26,784.41 385.94,800.56 386.63,821.05 387.31,808.38 388,826.34 388.68,822.17 389.37,840.08 390.05,840.5 390.74,838.26 391.42,840.17 392.11,830.7 392.8,847.49 393.48,837.2 394.17,844.81 394.85,835.91 395.54,838.08 396.22,842.9 396.91,825.9 397.59,839.32 398.28,832.07 398.96,846.41 399.65,838.71 400.33,837 401.02,836.25 401.7,838.75 402.39,841.24 403.07,854.62 403.76,838.63 404.44,840.25 405.13,835.63 405.81,828.2 406.5,819.23 407.18,829.07 407.87,825.47 408.55,827.28 409.24,826.17 409.92,826.57 410.61,831.43 411.29,831.36 411.98,826.78 412.66,817.08 413.35,822.96 414.03,817.23 414.72,835.02 415.4,824.64 416.09,823.23 416.77,821.87 417.46,833.29 418.14,835.66 418.83,836.85 419.51,825.46 420.2,807.49 420.89,820.61 421.57,829.25 422.26,818.74 422.94,822.25 423.63,818.57 424.31,821.94 425,826.75 425.68,821.18 426.37,812.49 427.05,814.63 427.74,808.21 428.42,822.85 429.11,808.89 429.79,815.28 430.48,814.35 431.16,807.5 431.85,816.61 432.53,814.27 433.22,811.97 433.9,812.14 434.59,811.27 435.27,808.36 435.96,813.47 436.64,819.89 437.33,801.19 438.01,817.31 438.7,814.63 439.38,821.86 440.07,831.08 440.75,821.8 441.44,816.14 442.12,812.89 442.81,815.93 443.49,810.67 444.18,809.11 444.86,809.05 445.55,815.45 446.23,814.91 446.92,816.81 447.6,821.07 448.29,805.99 448.98,823.34 449.66,815.62 450.35,813.58 451.03,828.93 451.72,809.96 452.4,816.97 453.09,813.05 453.77,816.5 454.46,824.19 455.14,812.62 455.83,812.96 456.51,806.79 457.2,809.86 457.88,823.68 458.57,804.88 459.25,806.32 459.94,805.82 460.62,806.82 461.31,813.66 461.99,804.06 462.68,808.32 463.36,784.13 464.05,802.22 464.73,804.34 465.42,794.03 466.1,775.02 466.79,781.43 467.47,786.03 468.16,746.67 468.84,745.78 469.53,745.8 470.21,735.29 470.9,752.89 471.58,763.49 472.27,757.74 472.95,778.51 473.64,779.59 474.32,790.41 475.01,790.42 475.7,799.88 476.38,817.88 477.07,802.17 477.75,811.96 478.44,804.6 479.12,811.02 479.81,803.47 480.49,815.8 481.18,827.96 481.86,817.24 482.55,812.36 483.23,818.44 483.92,819.7 484.6,807.46 485.29,818.35 485.97,810.84 486.66,816.97 487.34,827.54 488.03,824.48 488.71,820.63 489.4,816.81 490.08,824.21 490.77,828.26 491.45,825.84 492.14,822.8 492.82,825.26 493.51,823.43 494.19,807.78 494.88,818.07 495.56,825.22 496.25,820.12 496.93,809.98 497.62,816.05 498.3,820.94 498.99,829.08 499.67,831.39 500.36,822.85 501.04,821.53 501.73,831.46 502.41,829.8 503.1,821.68 503.79,835.8 504.47,832.81 505.16,822.29 505.84,818.54 506.53,820.27 507.21,816.1 507.9,812.58 508.58,817.1 509.27,824.68 509.95,809.58 510.64,812.59 511.32,817.5 512.01,828.81 512.69,821.25 513.38,837.28 514.06,826.24 514.75,840.11 515.43,827.16 516.12,818.17 516.8,824.74 517.49,814.8 518.17,825.22 518.86,824.75 519.54,827.49 520.23,822.39 520.91,826.15 521.6,818.53 522.28,816.11 522.97,824.12 523.65,833.73 524.34,823.3 525.02,818.47 525.71,823.08 526.39,825.52 527.08,821.62 527.76,819.5 528.45,844.41 529.13,818.73 529.82,823.65 530.5,825.73 531.19,832.46 531.88,827.81 532.56,825.67 533.25,838.97 533.93,825.28 534.62,829.74 535.3,821.28 535.99,826.45 536.67,831.99 537.36,830.82 538.04,827.72 538.73,831.32 539.41,829.39 540.1,837.71 540.78,841.53 541.47,837.9 542.15,843.68 542.84,840.2 543.52,833.81 544.21,846.46 544.89,844.51 545.58,833.06 546.26,841.24 546.95,838.56 547.63,846.42 548.32,845.65 549,841.51 549.69,830.12 550.37,837.43 551.06,850.25 551.74,837.45 552.43,834.5 553.11,835.77 553.8,847.2 554.48,840.2 555.17,827.14 555.85,845.91 556.54,838.91 557.22,846.26 557.91,850.36 558.59,846.46 559.28,838.93 559.97,839.29 560.65,852.32 561.34,850.86 562.02,854.11 562.71,861.75 563.39,846.81 564.08,841.69 564.76,842.26 565.45,853.78 566.13,843.49 566.82,844.87 567.5,853.11 568.19,851.16 568.87,853.27 569.56,849.85 570.24,840.97 570.93,857.13 571.61,859.12 572.3,847.73 572.98,852.92 573.67,864.56 574.35,859.97 575.04,859.29 575.72,858.38 576.41,853.38 577.09,849.82 577.78,856.65 578.46,855.22 579.15,860.59 579.83,850.91 580.52,849.4 581.2,858.77 581.89,861.74 582.57,846.17 583.26,852.87 583.94,863.35 584.63,868.07 585.31,860.45 586,852.3 586.69,862.27 587.37,860.78 588.06,862.33 588.74,856.09 589.43,852.06 590.11,866.95 590.8,861.52 591.48,860.98 592.17,863.26 592.85,866.33 593.54,854.87 594.22,858.34 594.91,854.84 595.59,849.94 596.28,859.96 596.96,854.15 597.65,858.61 598.33,855.69 599.02,851.78 599.7,852.62 600.39,857.79 601.07,836.46 601.76,839.62 602.44,841.19 603.13,839.87 603.81,815.76 604.5,798.68 605.18,781.63 605.87,765.28 606.55,762.16 607.24,744.35 607.92,758.55 608.61,750.83 609.29,756.7 609.98,782.13 610.66,792.24 611.35,800.52 612.03,805.57 612.72,796.45 613.4,809.61 614.09,788.2 614.78,805.42 615.46,808.57 616.15,822.36 616.83,832.61 617.52,847.83 618.2,851.59 618.89,860.48 619.57,852.29 620.26,864.65 620.94,869.74 621.63,867.64 622.31,867.77 623,873.16 623.68,879.11 624.37,878.49 625.05,874.3 625.74,871.81 626.42,874.52 627.11,878.3 627.79,875.76 628.48,882.01 629.16,879.14 629.85,874.21 630.53,876.72 631.22,876.46 631.9,886.03 632.59,884.06 633.27,890.87 633.96,882.08 634.64,889.44 635.33,894.54 636.01,891.24" fill="none" stroke="#3d8ed1" stroke-width="1.5" stroke-linejoin="round"/>
<polyline points="375.8,832.8 376.13,831.18 376.47,829.2 376.81,826.8 377.14,823.91 377.48,820.5 377.81,816.5 378.14,811.89 378.48,806.67 378.81,800.84 379.15,794.45 379.49,787.59 379.82,780.38 380.16,772.98 380.49,765.61 380.82,758.52 381.16,752.02 381.5,746.45 381.83,742.16 382.17,739.43 382.5,738.5 382.83,739.43 383.17,742.16 383.5,746.45 383.84,752.02 384.18,758.52 384.51,765.61 384.84,772.98 385.18,780.38 385.51,787.59 385.85,794.45 386.19,800.84 386.52,806.67 386.86,811.89 387.19,816.5 387.52,820.5 387.86,823.91 388.19,826.8 388.53,829.2 388.87,831.18 389.2,832.8" fill="none" stroke="#e8192c" stroke-width="2.1" stroke-linejoin="round" stroke-linecap="round"/>
<polyline points="389.37,840.08 390.05,840.5 390.74,838.26 391.42,840.17 392.11,830.7 392.8,847.49 393.48,837.2 394.17,844.81 394.85,835.91 395.54,838.08 396.22,842.9 396.91,825.9 397.59,839.32 398.28,832.07 398.96,846.41 399.65,838.71 400.33,837 401.02,836.25 401.7,838.75 402.39,841.24 403.07,854.62 403.76,838.63 404.44,840.25 405.13,835.63 405.81,828.2 406.5,819.23 407.18,829.07 407.87,825.47 408.55,827.28 409.24,826.17 409.92,826.57" fill="none" stroke="#62bd62" stroke-width="2.4" stroke-linejoin="round"/>
</g>
<line x1="322.3" y1="735.3" x2="395" y2="735.3" stroke="#000" stroke-width="2" stroke-dasharray="2.1 1.9"/>
<line x1="322.3" y1="832.8" x2="410.3" y2="832.8" stroke="#000" stroke-width="2" stroke-dasharray="2.1 1.9"/>
<line x1="332.9" y1="744.3" x2="332.9" y2="824" stroke="#ef4136" stroke-width="1.2" />
<path d="M332.9 736.3L337.7 747.8L332.9 744.8L328.1 747.8Z" fill="#ef4136"/>
<path d="M332.9 832L337.7 820.5L332.9 823.5L328.1 820.5Z" fill="#ef4136"/>
<line x1="332.9" y1="841.8" x2="332.9" y2="973.5" stroke="#1aa55a" stroke-width="1.2" />
<path d="M332.9 833.8L337.7 845.3L332.9 842.3L328.1 845.3Z" fill="#1aa55a"/>
<path d="M332.9 981.5L337.7 970L332.9 973L328.1 970Z" fill="#1aa55a"/>
<text x="306.5" y="790.5" font-size="27" font-style="italic" fill="#ef4136" style="font-family:'Liberation Serif', serif">I</text>
<text x="315.5" y="798.7" font-size="15.5" fill="#ef4136" style="font-family:'Liberation Serif', serif">R</text>
<text x="302" y="915" font-size="25" font-style="italic" fill="#1aa55a" style="font-family:'Liberation Serif', serif">I</text>
<text x="311" y="923.6" font-size="14.8" fill="#1aa55a" style="font-family:'Liberation Serif', serif">PL</text>
<rect x="88.5" y="720" width="546" height="261.8" fill="none" stroke="#000" stroke-width="1.4"/>
<path d="M120.65 981.8L120.65 978.6M152.7 981.8L152.7 978.6M184.75 981.8L184.75 978.6M216.8 981.8L216.8 976.2M248.85 981.8L248.85 978.6M280.9 981.8L280.9 978.6M312.95 981.8L312.95 978.6M345 981.8L345 978.6M377.05 981.8L377.05 978.6M409.1 981.8L409.1 976.2M441.15 981.8L441.15 978.6M473.2 981.8L473.2 978.6M505.25 981.8L505.25 978.6M537.3 981.8L537.3 978.6M569.35 981.8L569.35 978.6M601.4 981.8L601.4 976.2M633.45 981.8L633.45 978.6M88.5 965.39L91.8 965.39M634.5 965.39L631.2 965.39M88.5 948.98L91.8 948.98M634.5 948.98L631.2 948.98M88.5 932.57L91.8 932.57M634.5 932.57L631.2 932.57M88.5 916.16L91.8 916.16M634.5 916.16L631.2 916.16M88.5 899.75L94.3 899.75M634.5 899.75L628.7 899.75M88.5 883.34L91.8 883.34M634.5 883.34L631.2 883.34M88.5 866.93L91.8 866.93M634.5 866.93L631.2 866.93M88.5 850.52L91.8 850.52M634.5 850.52L631.2 850.52M88.5 834.11L91.8 834.11M634.5 834.11L631.2 834.11M88.5 817.7L94.3 817.7M634.5 817.7L628.7 817.7M88.5 801.29L91.8 801.29M634.5 801.29L631.2 801.29M88.5 784.88L91.8 784.88M634.5 784.88L631.2 784.88M88.5 768.47L91.8 768.47M634.5 768.47L631.2 768.47M88.5 752.06L91.8 752.06M634.5 752.06L631.2 752.06M88.5 735.65L94.3 735.65M634.5 735.65L628.7 735.65M109.09 720L109.09 725.6M147.71 720L147.71 723.2M186.93 720L186.93 723.2M226.78 720L226.78 725.6M267.26 720L267.26 723.2M308.4 720L308.4 723.2M350.2 720L350.2 725.6M392.68 720L392.68 723.2M435.87 720L435.87 723.2M479.77 720L479.77 725.6M524.41 720L524.41 723.2M569.8 720L569.8 723.2M615.97 720L615.97 725.6" stroke="#000" stroke-width="1.3" fill="none"/>
<text x="109.09" y="708.5" font-size="22" text-anchor="middle" fill="#000" >400</text>
<text x="226.78" y="708.5" font-size="22" text-anchor="middle" fill="#000" >700</text>
<text x="350.2" y="708.5" font-size="22" text-anchor="middle" fill="#000" >1000</text>
<text x="477.97" y="708.5" font-size="22" text-anchor="middle" fill="#000" >1300</text>
<text x="617.27" y="708.5" font-size="22" text-anchor="middle" fill="#000" >1600</text>
<text x="216.8" y="1009" font-size="22" text-anchor="middle" fill="#000" >790</text>
<text x="409.1" y="1009" font-size="22" text-anchor="middle" fill="#000" >820</text>
<text x="601.4" y="1009" font-size="22" text-anchor="middle" fill="#000" >850</text>
<text x="82.5" y="989.8" font-size="22" text-anchor="end" fill="#000" >0</text>
<text x="82.5" y="907.75" font-size="22" text-anchor="end" fill="#000" >500</text>
<text x="82.5" y="825.7" font-size="22" text-anchor="end" fill="#000" >1000</text>
<text x="82.5" y="743.65" font-size="22" text-anchor="end" fill="#000" >1500</text>
<text x="0" y="0" font-size="22.8" text-anchor="middle" fill="#000" transform="translate(24.5,855) rotate(-90)">Intensity (cts)</text>
<text x="361.3" y="1038" font-size="22.6" text-anchor="middle" fill="#000" >Wavelength (nm)</text>
<rect x="105" y="739" width="30.5" height="9" fill="#c2c2c2" stroke="#858585" stroke-width="1.1"/>
<line x1="105.2" y1="768.2" x2="135.8" y2="768.2" stroke="#f7941d" stroke-width="2.6" />
<line x1="105.2" y1="793.2" x2="135.8" y2="793.2" stroke="#3f8fd2" stroke-width="2.6" />
<text x="142" y="750.6" font-size="18.2" text-anchor="start" fill="#000" >Raman (R)</text>
<text x="142" y="776.3" font-size="18.2" text-anchor="start" fill="#000" >R+PL: 86 s</text>
<text x="142" y="801" font-size="18.2" text-anchor="start" fill="#000" >R+PL: 101 s</text>
</svg></body></html>
